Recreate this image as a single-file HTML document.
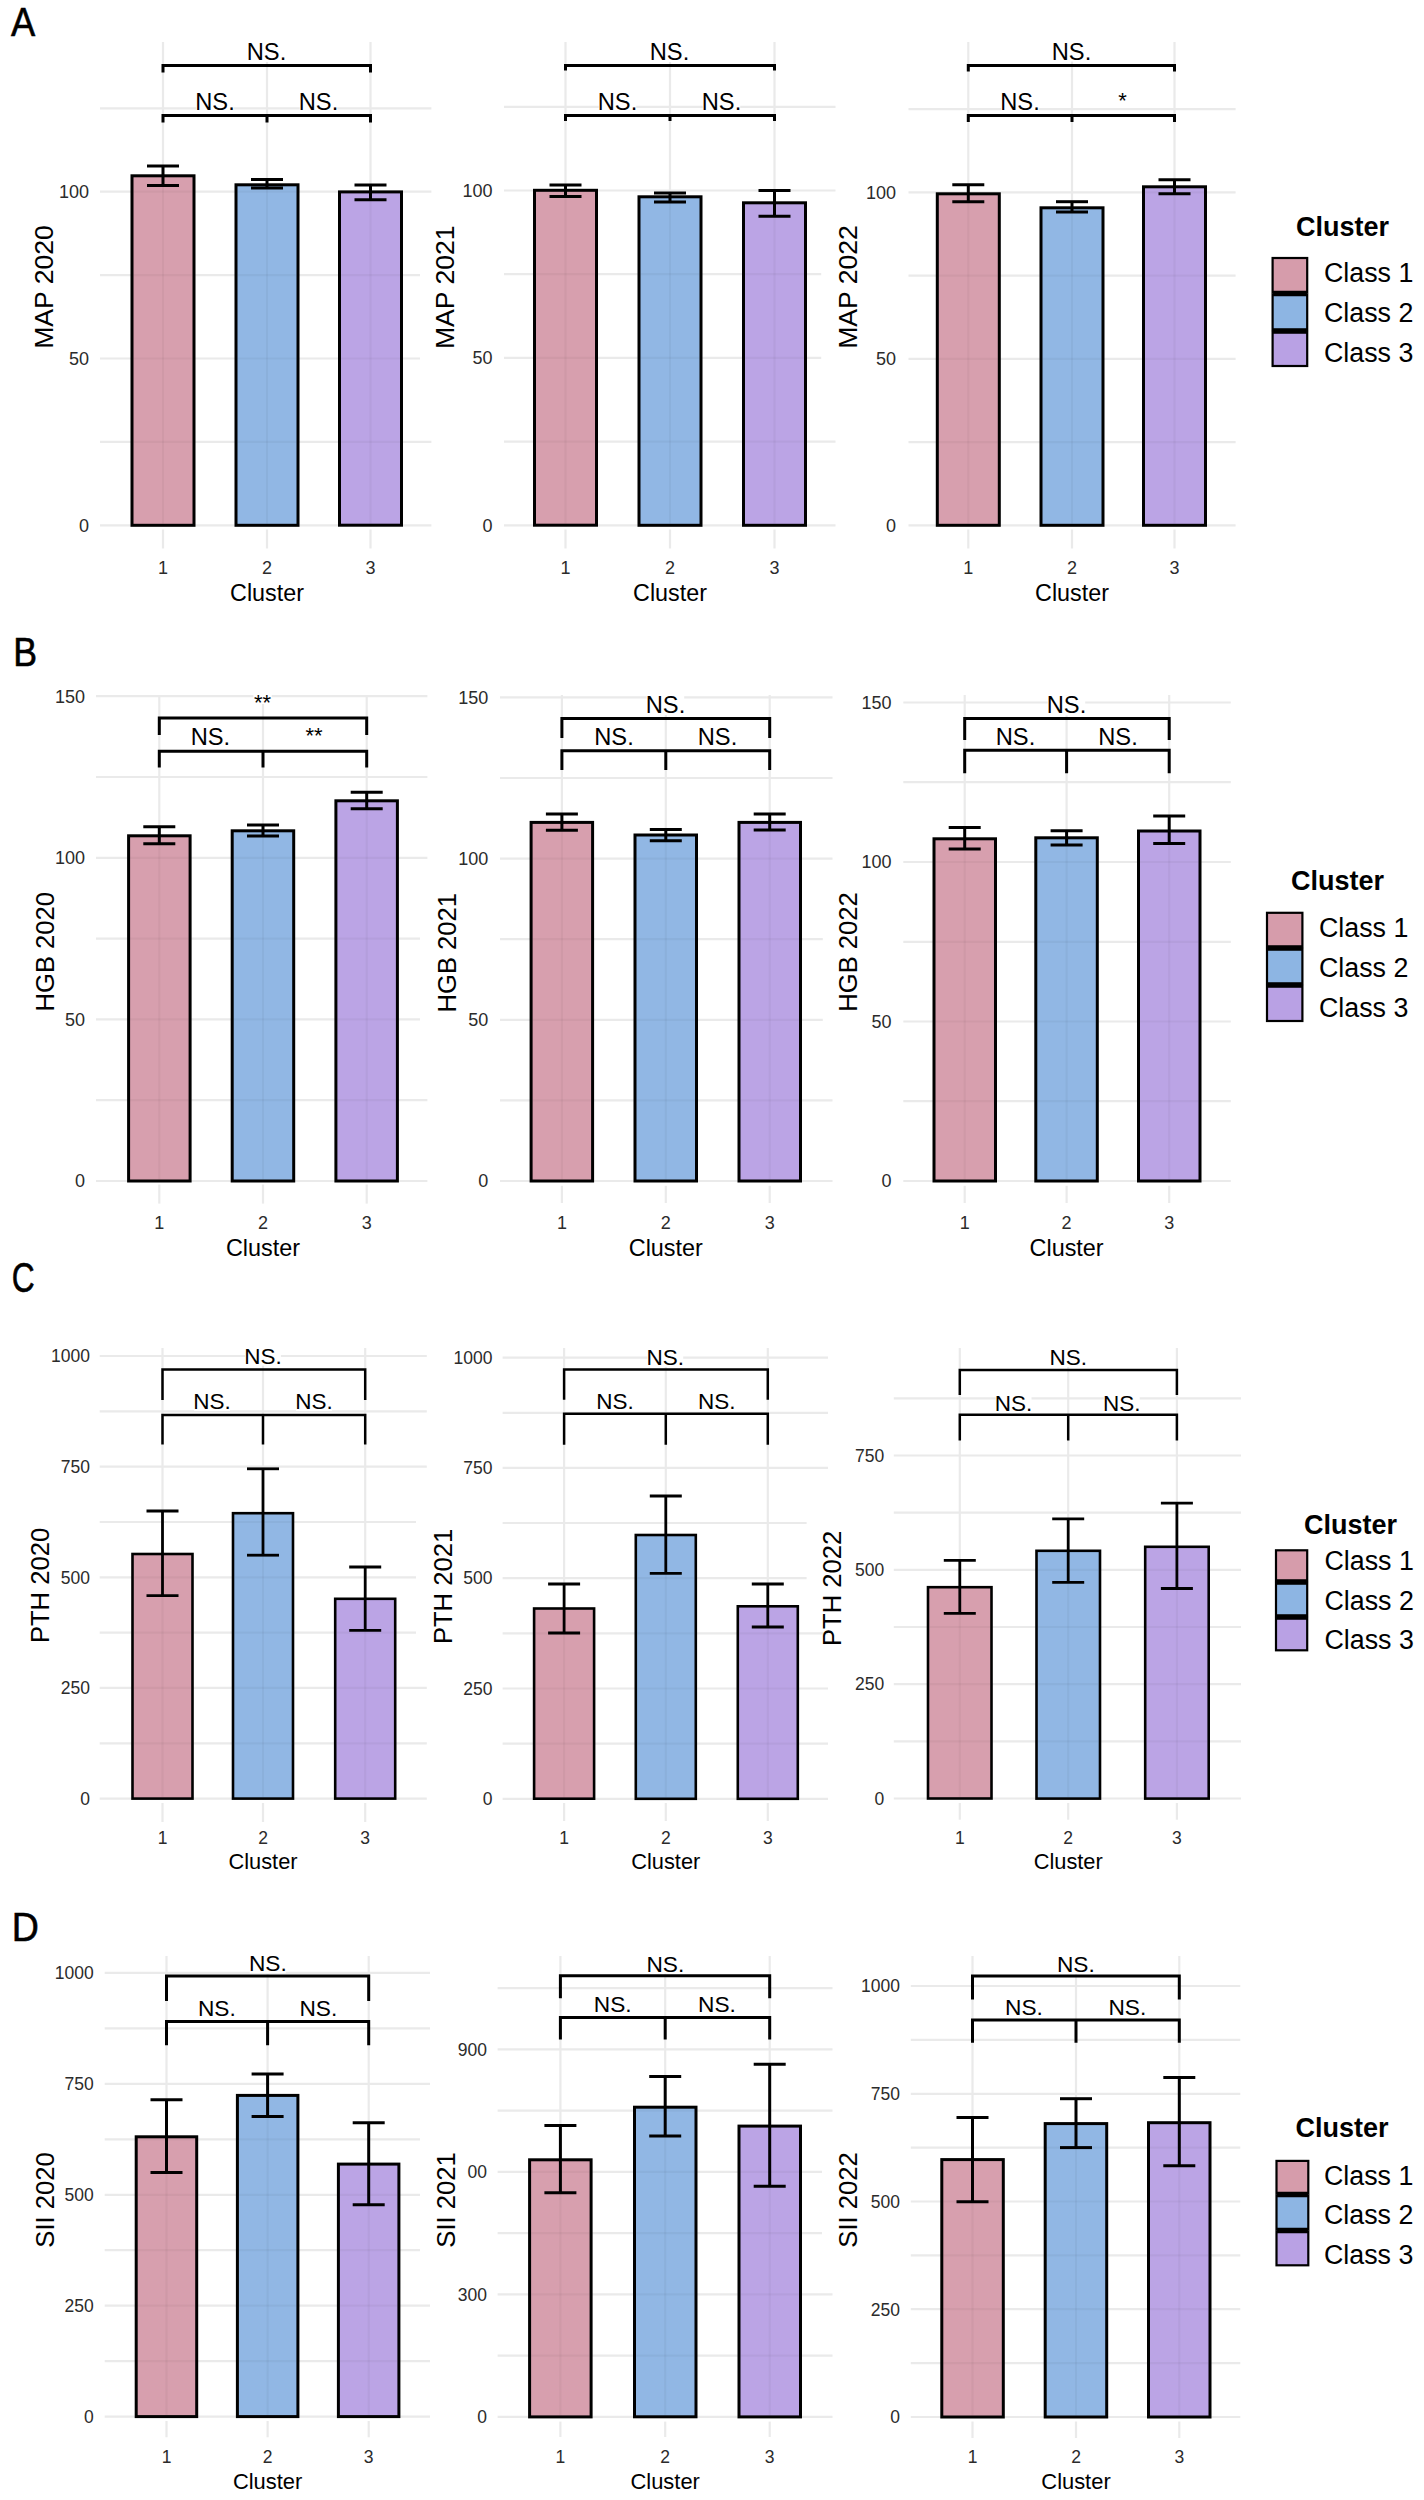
<!DOCTYPE html>
<html><head><meta charset="utf-8"><style>
html,body{margin:0;padding:0;background:#fff;}
svg{display:block;font-family:'Liberation Sans', sans-serif;}
</style></head><body>
<svg width="1424" height="2500" viewBox="0 0 1424 2500">
<rect width="1424" height="2500" fill="#fff"/>
<line x1="100.0" y1="525.3" x2="431.4" y2="525.3" stroke="#EAEAEA" stroke-width="2.2" stroke-linecap="butt"/>
<line x1="100.0" y1="441.9" x2="431.4" y2="441.9" stroke="#EAEAEA" stroke-width="2.2" stroke-linecap="butt"/>
<line x1="100.0" y1="358.5" x2="420.0" y2="358.5" stroke="#EAEAEA" stroke-width="2.2" stroke-linecap="butt"/>
<line x1="100.0" y1="275.1" x2="420.0" y2="275.1" stroke="#EAEAEA" stroke-width="2.2" stroke-linecap="butt"/>
<line x1="100.0" y1="191.7" x2="431.4" y2="191.7" stroke="#EAEAEA" stroke-width="2.2" stroke-linecap="butt"/>
<line x1="100.0" y1="108.3" x2="431.4" y2="108.3" stroke="#EAEAEA" stroke-width="2.2" stroke-linecap="butt"/>
<line x1="163.0" y1="42.0" x2="163.0" y2="526.3" stroke="#EAEAEA" stroke-width="2.2" stroke-linecap="butt"/>
<line x1="267.0" y1="42.0" x2="267.0" y2="526.3" stroke="#EAEAEA" stroke-width="2.2" stroke-linecap="butt"/>
<line x1="370.5" y1="42.0" x2="370.5" y2="526.3" stroke="#EAEAEA" stroke-width="2.2" stroke-linecap="butt"/>
<rect x="247.7" y="41.9" width="37.5" height="20.1" fill="#fff"/>
<rect x="196.2" y="91.9" width="37.5" height="20.1" fill="#fff"/>
<rect x="299.7" y="91.9" width="37.5" height="20.1" fill="#fff"/>
<line x1="163.0" y1="529.5" x2="163.0" y2="548.5" stroke="#EAEAEA" stroke-width="2.2" stroke-linecap="butt"/>
<line x1="267.0" y1="529.5" x2="267.0" y2="548.5" stroke="#EAEAEA" stroke-width="2.2" stroke-linecap="butt"/>
<line x1="370.5" y1="529.5" x2="370.5" y2="548.5" stroke="#EAEAEA" stroke-width="2.2" stroke-linecap="butt"/>
<rect x="132.0" y="175.8" width="62.0" height="349.5" fill="#D69CAB" fill-opacity="0.97" stroke="#000" stroke-width="3"/>
<rect x="236.0" y="184.8" width="62.0" height="340.5" fill="#8DB5E3" fill-opacity="0.97" stroke="#000" stroke-width="3"/>
<rect x="339.5" y="191.9" width="62.0" height="333.3" fill="#B9A1E4" fill-opacity="0.97" stroke="#000" stroke-width="3"/>
<line x1="133.5" y1="441.9" x2="192.5" y2="441.9" stroke="#000" stroke-opacity="0.035" stroke-width="2.2"/>
<line x1="133.5" y1="358.5" x2="192.5" y2="358.5" stroke="#000" stroke-opacity="0.035" stroke-width="2.2"/>
<line x1="133.5" y1="275.1" x2="192.5" y2="275.1" stroke="#000" stroke-opacity="0.035" stroke-width="2.2"/>
<line x1="133.5" y1="191.7" x2="192.5" y2="191.7" stroke="#000" stroke-opacity="0.035" stroke-width="2.2"/>
<line x1="163.0" y1="178.0" x2="163.0" y2="523.8" stroke="#000" stroke-opacity="0.035" stroke-width="2.2"/>
<line x1="237.5" y1="441.9" x2="296.5" y2="441.9" stroke="#000" stroke-opacity="0.035" stroke-width="2.2"/>
<line x1="237.5" y1="358.5" x2="296.5" y2="358.5" stroke="#000" stroke-opacity="0.035" stroke-width="2.2"/>
<line x1="237.5" y1="275.1" x2="296.5" y2="275.1" stroke="#000" stroke-opacity="0.035" stroke-width="2.2"/>
<line x1="237.5" y1="191.7" x2="296.5" y2="191.7" stroke="#000" stroke-opacity="0.035" stroke-width="2.2"/>
<line x1="267.0" y1="187.0" x2="267.0" y2="523.8" stroke="#000" stroke-opacity="0.035" stroke-width="2.2"/>
<line x1="341.0" y1="441.9" x2="400.0" y2="441.9" stroke="#000" stroke-opacity="0.035" stroke-width="2.2"/>
<line x1="341.0" y1="358.5" x2="400.0" y2="358.5" stroke="#000" stroke-opacity="0.035" stroke-width="2.2"/>
<line x1="341.0" y1="275.1" x2="400.0" y2="275.1" stroke="#000" stroke-opacity="0.035" stroke-width="2.2"/>
<line x1="370.5" y1="194.2" x2="370.5" y2="523.8" stroke="#000" stroke-opacity="0.035" stroke-width="2.2"/>
<line x1="163.0" y1="166.0" x2="163.0" y2="185.5" stroke="#000" stroke-width="3" stroke-linecap="butt"/>
<line x1="147.0" y1="166.0" x2="179.0" y2="166.0" stroke="#000" stroke-width="3" stroke-linecap="butt"/>
<line x1="147.0" y1="185.5" x2="179.0" y2="185.5" stroke="#000" stroke-width="3" stroke-linecap="butt"/>
<line x1="267.0" y1="179.5" x2="267.0" y2="188.0" stroke="#000" stroke-width="3" stroke-linecap="butt"/>
<line x1="251.0" y1="179.5" x2="283.0" y2="179.5" stroke="#000" stroke-width="3" stroke-linecap="butt"/>
<line x1="251.0" y1="188.0" x2="283.0" y2="188.0" stroke="#000" stroke-width="3" stroke-linecap="butt"/>
<line x1="370.5" y1="185.0" x2="370.5" y2="199.7" stroke="#000" stroke-width="3" stroke-linecap="butt"/>
<line x1="354.5" y1="185.0" x2="386.5" y2="185.0" stroke="#000" stroke-width="3" stroke-linecap="butt"/>
<line x1="354.5" y1="199.7" x2="386.5" y2="199.7" stroke="#000" stroke-width="3" stroke-linecap="butt"/>
<path d="M163.0,72.5 V65.5 H370.5 V72.5" fill="none" stroke="#000" stroke-width="3"/>
<path d="M163.0,122.5 V115.5 H370.5 V122.5 M267.0,115.5 V122.5" fill="none" stroke="#000" stroke-width="3"/>
<text x="266.5" y="60.0" font-size="23.7" text-anchor="middle" fill="#000" font-weight="normal" >NS.</text>
<text x="215.0" y="110.0" font-size="23.7" text-anchor="middle" fill="#000" font-weight="normal" >NS.</text>
<text x="318.5" y="110.0" font-size="23.7" text-anchor="middle" fill="#000" font-weight="normal" >NS.</text>
<text x="89.0" y="531.7" font-size="18" text-anchor="end" fill="#2B2B2B" font-weight="normal" >0</text>
<text x="89.0" y="364.9" font-size="18" text-anchor="end" fill="#2B2B2B" font-weight="normal" >50</text>
<text x="89.0" y="198.1" font-size="18" text-anchor="end" fill="#2B2B2B" font-weight="normal" >100</text>
<text x="163.0" y="573.5" font-size="18" text-anchor="middle" fill="#2B2B2B" font-weight="normal" >1</text>
<text x="267.0" y="573.5" font-size="18" text-anchor="middle" fill="#2B2B2B" font-weight="normal" >2</text>
<text x="370.5" y="573.5" font-size="18" text-anchor="middle" fill="#2B2B2B" font-weight="normal" >3</text>
<text x="267.0" y="600.5" font-size="23.3" text-anchor="middle" fill="#000" font-weight="normal" >Cluster</text>
<text x="0" y="0" font-size="26.6" text-anchor="middle" transform="translate(52.8,287.0) rotate(-90)">MAP 2020</text>
<line x1="504.0" y1="525.3" x2="835.5" y2="525.3" stroke="#EAEAEA" stroke-width="2.2" stroke-linecap="butt"/>
<line x1="504.0" y1="441.6" x2="835.5" y2="441.6" stroke="#EAEAEA" stroke-width="2.2" stroke-linecap="butt"/>
<line x1="504.0" y1="357.9" x2="821.2" y2="357.9" stroke="#EAEAEA" stroke-width="2.2" stroke-linecap="butt"/>
<line x1="504.0" y1="274.2" x2="821.2" y2="274.2" stroke="#EAEAEA" stroke-width="2.2" stroke-linecap="butt"/>
<line x1="504.0" y1="190.5" x2="835.5" y2="190.5" stroke="#EAEAEA" stroke-width="2.2" stroke-linecap="butt"/>
<line x1="504.0" y1="106.8" x2="835.5" y2="106.8" stroke="#EAEAEA" stroke-width="2.2" stroke-linecap="butt"/>
<line x1="565.5" y1="42.0" x2="565.5" y2="526.3" stroke="#EAEAEA" stroke-width="2.2" stroke-linecap="butt"/>
<line x1="670.0" y1="42.0" x2="670.0" y2="526.3" stroke="#EAEAEA" stroke-width="2.2" stroke-linecap="butt"/>
<line x1="774.5" y1="42.0" x2="774.5" y2="526.3" stroke="#EAEAEA" stroke-width="2.2" stroke-linecap="butt"/>
<rect x="650.7" y="41.9" width="37.5" height="20.1" fill="#fff"/>
<rect x="598.7" y="91.9" width="37.5" height="20.1" fill="#fff"/>
<rect x="702.7" y="91.9" width="37.5" height="20.1" fill="#fff"/>
<line x1="565.5" y1="529.5" x2="565.5" y2="548.5" stroke="#EAEAEA" stroke-width="2.2" stroke-linecap="butt"/>
<line x1="670.0" y1="529.5" x2="670.0" y2="548.5" stroke="#EAEAEA" stroke-width="2.2" stroke-linecap="butt"/>
<line x1="774.5" y1="529.5" x2="774.5" y2="548.5" stroke="#EAEAEA" stroke-width="2.2" stroke-linecap="butt"/>
<rect x="534.5" y="190.3" width="62.0" height="334.9" fill="#D69CAB" fill-opacity="0.97" stroke="#000" stroke-width="3"/>
<rect x="639.0" y="196.8" width="62.0" height="328.5" fill="#8DB5E3" fill-opacity="0.97" stroke="#000" stroke-width="3"/>
<rect x="743.5" y="202.8" width="62.0" height="322.5" fill="#B9A1E4" fill-opacity="0.97" stroke="#000" stroke-width="3"/>
<line x1="536.0" y1="441.6" x2="595.0" y2="441.6" stroke="#000" stroke-opacity="0.035" stroke-width="2.2"/>
<line x1="536.0" y1="357.9" x2="595.0" y2="357.9" stroke="#000" stroke-opacity="0.035" stroke-width="2.2"/>
<line x1="536.0" y1="274.2" x2="595.0" y2="274.2" stroke="#000" stroke-opacity="0.035" stroke-width="2.2"/>
<line x1="565.5" y1="192.6" x2="565.5" y2="523.8" stroke="#000" stroke-opacity="0.035" stroke-width="2.2"/>
<line x1="640.5" y1="441.6" x2="699.5" y2="441.6" stroke="#000" stroke-opacity="0.035" stroke-width="2.2"/>
<line x1="640.5" y1="357.9" x2="699.5" y2="357.9" stroke="#000" stroke-opacity="0.035" stroke-width="2.2"/>
<line x1="640.5" y1="274.2" x2="699.5" y2="274.2" stroke="#000" stroke-opacity="0.035" stroke-width="2.2"/>
<line x1="670.0" y1="199.0" x2="670.0" y2="523.8" stroke="#000" stroke-opacity="0.035" stroke-width="2.2"/>
<line x1="745.0" y1="441.6" x2="804.0" y2="441.6" stroke="#000" stroke-opacity="0.035" stroke-width="2.2"/>
<line x1="745.0" y1="357.9" x2="804.0" y2="357.9" stroke="#000" stroke-opacity="0.035" stroke-width="2.2"/>
<line x1="745.0" y1="274.2" x2="804.0" y2="274.2" stroke="#000" stroke-opacity="0.035" stroke-width="2.2"/>
<line x1="774.5" y1="205.0" x2="774.5" y2="523.8" stroke="#000" stroke-opacity="0.035" stroke-width="2.2"/>
<line x1="565.5" y1="185.0" x2="565.5" y2="196.6" stroke="#000" stroke-width="3" stroke-linecap="butt"/>
<line x1="549.5" y1="185.0" x2="581.5" y2="185.0" stroke="#000" stroke-width="3" stroke-linecap="butt"/>
<line x1="549.5" y1="196.6" x2="581.5" y2="196.6" stroke="#000" stroke-width="3" stroke-linecap="butt"/>
<line x1="670.0" y1="193.0" x2="670.0" y2="202.0" stroke="#000" stroke-width="3" stroke-linecap="butt"/>
<line x1="654.0" y1="193.0" x2="686.0" y2="193.0" stroke="#000" stroke-width="3" stroke-linecap="butt"/>
<line x1="654.0" y1="202.0" x2="686.0" y2="202.0" stroke="#000" stroke-width="3" stroke-linecap="butt"/>
<line x1="774.5" y1="190.5" x2="774.5" y2="216.3" stroke="#000" stroke-width="3" stroke-linecap="butt"/>
<line x1="758.5" y1="190.5" x2="790.5" y2="190.5" stroke="#000" stroke-width="3" stroke-linecap="butt"/>
<line x1="758.5" y1="216.3" x2="790.5" y2="216.3" stroke="#000" stroke-width="3" stroke-linecap="butt"/>
<path d="M565.5,70.6 V65.5 H774.5 V70.6" fill="none" stroke="#000" stroke-width="3"/>
<path d="M565.5,121.0 V115.5 H774.5 V121.0 M670.0,115.5 V121.0" fill="none" stroke="#000" stroke-width="3"/>
<text x="669.5" y="60.0" font-size="23.7" text-anchor="middle" fill="#000" font-weight="normal" >NS.</text>
<text x="617.5" y="110.0" font-size="23.7" text-anchor="middle" fill="#000" font-weight="normal" >NS.</text>
<text x="721.5" y="110.0" font-size="23.7" text-anchor="middle" fill="#000" font-weight="normal" >NS.</text>
<text x="492.5" y="531.7" font-size="18" text-anchor="end" fill="#2B2B2B" font-weight="normal" >0</text>
<text x="492.5" y="364.3" font-size="18" text-anchor="end" fill="#2B2B2B" font-weight="normal" >50</text>
<text x="492.5" y="196.9" font-size="18" text-anchor="end" fill="#2B2B2B" font-weight="normal" >100</text>
<text x="565.5" y="573.5" font-size="18" text-anchor="middle" fill="#2B2B2B" font-weight="normal" >1</text>
<text x="670.0" y="573.5" font-size="18" text-anchor="middle" fill="#2B2B2B" font-weight="normal" >2</text>
<text x="774.5" y="573.5" font-size="18" text-anchor="middle" fill="#2B2B2B" font-weight="normal" >3</text>
<text x="670.0" y="600.5" font-size="23.3" text-anchor="middle" fill="#000" font-weight="normal" >Cluster</text>
<text x="0" y="0" font-size="26.6" text-anchor="middle" transform="translate(454.4,287.2) rotate(-90)">MAP 2021</text>
<line x1="908.5" y1="525.3" x2="1235.6" y2="525.3" stroke="#EAEAEA" stroke-width="2.2" stroke-linecap="butt"/>
<line x1="908.5" y1="442.1" x2="1235.6" y2="442.1" stroke="#EAEAEA" stroke-width="2.2" stroke-linecap="butt"/>
<line x1="908.5" y1="358.8" x2="1235.6" y2="358.8" stroke="#EAEAEA" stroke-width="2.2" stroke-linecap="butt"/>
<line x1="908.5" y1="275.6" x2="1235.6" y2="275.6" stroke="#EAEAEA" stroke-width="2.2" stroke-linecap="butt"/>
<line x1="908.5" y1="192.4" x2="1235.6" y2="192.4" stroke="#EAEAEA" stroke-width="2.2" stroke-linecap="butt"/>
<line x1="908.5" y1="109.2" x2="1235.6" y2="109.2" stroke="#EAEAEA" stroke-width="2.2" stroke-linecap="butt"/>
<line x1="968.3" y1="42.0" x2="968.3" y2="526.3" stroke="#EAEAEA" stroke-width="2.2" stroke-linecap="butt"/>
<line x1="1072.0" y1="42.0" x2="1072.0" y2="526.3" stroke="#EAEAEA" stroke-width="2.2" stroke-linecap="butt"/>
<line x1="1174.5" y1="42.0" x2="1174.5" y2="526.3" stroke="#EAEAEA" stroke-width="2.2" stroke-linecap="butt"/>
<rect x="1052.7" y="41.4" width="37.5" height="20.1" fill="#fff"/>
<rect x="1001.2" y="91.9" width="37.5" height="20.1" fill="#fff"/>
<rect x="1117.4" y="91.2" width="10.1" height="10.8" fill="#fff"/>
<line x1="968.3" y1="529.5" x2="968.3" y2="548.5" stroke="#EAEAEA" stroke-width="2.2" stroke-linecap="butt"/>
<line x1="1072.0" y1="529.5" x2="1072.0" y2="548.5" stroke="#EAEAEA" stroke-width="2.2" stroke-linecap="butt"/>
<line x1="1174.5" y1="529.5" x2="1174.5" y2="548.5" stroke="#EAEAEA" stroke-width="2.2" stroke-linecap="butt"/>
<rect x="937.3" y="193.8" width="62.0" height="331.5" fill="#D69CAB" fill-opacity="0.97" stroke="#000" stroke-width="3"/>
<rect x="1041.0" y="207.8" width="62.0" height="317.5" fill="#8DB5E3" fill-opacity="0.97" stroke="#000" stroke-width="3"/>
<rect x="1143.5" y="186.8" width="62.0" height="338.5" fill="#B9A1E4" fill-opacity="0.97" stroke="#000" stroke-width="3"/>
<line x1="938.8" y1="442.1" x2="997.8" y2="442.1" stroke="#000" stroke-opacity="0.035" stroke-width="2.2"/>
<line x1="938.8" y1="358.8" x2="997.8" y2="358.8" stroke="#000" stroke-opacity="0.035" stroke-width="2.2"/>
<line x1="938.8" y1="275.6" x2="997.8" y2="275.6" stroke="#000" stroke-opacity="0.035" stroke-width="2.2"/>
<line x1="968.3" y1="196.0" x2="968.3" y2="523.8" stroke="#000" stroke-opacity="0.035" stroke-width="2.2"/>
<line x1="1042.5" y1="442.1" x2="1101.5" y2="442.1" stroke="#000" stroke-opacity="0.035" stroke-width="2.2"/>
<line x1="1042.5" y1="358.8" x2="1101.5" y2="358.8" stroke="#000" stroke-opacity="0.035" stroke-width="2.2"/>
<line x1="1042.5" y1="275.6" x2="1101.5" y2="275.6" stroke="#000" stroke-opacity="0.035" stroke-width="2.2"/>
<line x1="1072.0" y1="210.0" x2="1072.0" y2="523.8" stroke="#000" stroke-opacity="0.035" stroke-width="2.2"/>
<line x1="1145.0" y1="442.1" x2="1204.0" y2="442.1" stroke="#000" stroke-opacity="0.035" stroke-width="2.2"/>
<line x1="1145.0" y1="358.8" x2="1204.0" y2="358.8" stroke="#000" stroke-opacity="0.035" stroke-width="2.2"/>
<line x1="1145.0" y1="275.6" x2="1204.0" y2="275.6" stroke="#000" stroke-opacity="0.035" stroke-width="2.2"/>
<line x1="1145.0" y1="192.4" x2="1204.0" y2="192.4" stroke="#000" stroke-opacity="0.035" stroke-width="2.2"/>
<line x1="1174.5" y1="189.0" x2="1174.5" y2="523.8" stroke="#000" stroke-opacity="0.035" stroke-width="2.2"/>
<line x1="968.3" y1="184.8" x2="968.3" y2="201.7" stroke="#000" stroke-width="3" stroke-linecap="butt"/>
<line x1="952.3" y1="184.8" x2="984.3" y2="184.8" stroke="#000" stroke-width="3" stroke-linecap="butt"/>
<line x1="952.3" y1="201.7" x2="984.3" y2="201.7" stroke="#000" stroke-width="3" stroke-linecap="butt"/>
<line x1="1072.0" y1="201.7" x2="1072.0" y2="212.0" stroke="#000" stroke-width="3" stroke-linecap="butt"/>
<line x1="1056.0" y1="201.7" x2="1088.0" y2="201.7" stroke="#000" stroke-width="3" stroke-linecap="butt"/>
<line x1="1056.0" y1="212.0" x2="1088.0" y2="212.0" stroke="#000" stroke-width="3" stroke-linecap="butt"/>
<line x1="1174.5" y1="179.8" x2="1174.5" y2="193.8" stroke="#000" stroke-width="3" stroke-linecap="butt"/>
<line x1="1158.5" y1="179.8" x2="1190.5" y2="179.8" stroke="#000" stroke-width="3" stroke-linecap="butt"/>
<line x1="1158.5" y1="193.8" x2="1190.5" y2="193.8" stroke="#000" stroke-width="3" stroke-linecap="butt"/>
<path d="M968.3,71.6 V65.5 H1174.5 V71.6" fill="none" stroke="#000" stroke-width="3"/>
<path d="M968.3,122.0 V115.5 H1174.5 V122.0 M1072.0,115.5 V122.0" fill="none" stroke="#000" stroke-width="3"/>
<text x="1071.5" y="59.5" font-size="23.7" text-anchor="middle" fill="#000" font-weight="normal" >NS.</text>
<text x="1020.0" y="110.0" font-size="23.7" text-anchor="middle" fill="#000" font-weight="normal" >NS.</text>
<text x="1122.5" y="108.0" font-size="22" text-anchor="middle" fill="#000" font-weight="normal" >*</text>
<text x="896.0" y="531.7" font-size="18" text-anchor="end" fill="#2B2B2B" font-weight="normal" >0</text>
<text x="896.0" y="365.2" font-size="18" text-anchor="end" fill="#2B2B2B" font-weight="normal" >50</text>
<text x="896.0" y="198.8" font-size="18" text-anchor="end" fill="#2B2B2B" font-weight="normal" >100</text>
<text x="968.3" y="573.5" font-size="18" text-anchor="middle" fill="#2B2B2B" font-weight="normal" >1</text>
<text x="1072.0" y="573.5" font-size="18" text-anchor="middle" fill="#2B2B2B" font-weight="normal" >2</text>
<text x="1174.5" y="573.5" font-size="18" text-anchor="middle" fill="#2B2B2B" font-weight="normal" >3</text>
<text x="1072.0" y="600.5" font-size="23.3" text-anchor="middle" fill="#000" font-weight="normal" >Cluster</text>
<text x="0" y="0" font-size="26.6" text-anchor="middle" transform="translate(857.0,287.0) rotate(-90)">MAP 2022</text>
<line x1="96.0" y1="1181.0" x2="427.4" y2="1181.0" stroke="#EAEAEA" stroke-width="2.2" stroke-linecap="butt"/>
<line x1="96.0" y1="1100.2" x2="427.4" y2="1100.2" stroke="#EAEAEA" stroke-width="2.2" stroke-linecap="butt"/>
<line x1="96.0" y1="1019.4" x2="420.0" y2="1019.4" stroke="#EAEAEA" stroke-width="2.2" stroke-linecap="butt"/>
<line x1="96.0" y1="938.6" x2="420.0" y2="938.6" stroke="#EAEAEA" stroke-width="2.2" stroke-linecap="butt"/>
<line x1="96.0" y1="857.8" x2="427.4" y2="857.8" stroke="#EAEAEA" stroke-width="2.2" stroke-linecap="butt"/>
<line x1="96.0" y1="777.0" x2="427.4" y2="777.0" stroke="#EAEAEA" stroke-width="2.2" stroke-linecap="butt"/>
<line x1="96.0" y1="696.2" x2="427.4" y2="696.2" stroke="#EAEAEA" stroke-width="2.2" stroke-linecap="butt"/>
<line x1="159.3" y1="696.0" x2="159.3" y2="1182.0" stroke="#EAEAEA" stroke-width="2.2" stroke-linecap="butt"/>
<line x1="263.0" y1="696.0" x2="263.0" y2="1182.0" stroke="#EAEAEA" stroke-width="2.2" stroke-linecap="butt"/>
<line x1="366.7" y1="696.0" x2="366.7" y2="1182.0" stroke="#EAEAEA" stroke-width="2.2" stroke-linecap="butt"/>
<rect x="253.4" y="693.2" width="18.3" height="10.8" fill="#fff"/>
<rect x="191.6" y="726.9" width="37.5" height="20.1" fill="#fff"/>
<rect x="304.9" y="726.4" width="18.3" height="10.8" fill="#fff"/>
<line x1="159.3" y1="1184.5" x2="159.3" y2="1203.6" stroke="#EAEAEA" stroke-width="2.2" stroke-linecap="butt"/>
<line x1="263.0" y1="1184.5" x2="263.0" y2="1203.6" stroke="#EAEAEA" stroke-width="2.2" stroke-linecap="butt"/>
<line x1="366.7" y1="1184.5" x2="366.7" y2="1203.6" stroke="#EAEAEA" stroke-width="2.2" stroke-linecap="butt"/>
<rect x="128.6" y="835.8" width="61.5" height="345.2" fill="#D69CAB" fill-opacity="0.97" stroke="#000" stroke-width="3"/>
<rect x="232.2" y="830.8" width="61.5" height="350.2" fill="#8DB5E3" fill-opacity="0.97" stroke="#000" stroke-width="3"/>
<rect x="335.9" y="800.8" width="61.5" height="380.2" fill="#B9A1E4" fill-opacity="0.97" stroke="#000" stroke-width="3"/>
<line x1="130.1" y1="1100.2" x2="188.6" y2="1100.2" stroke="#000" stroke-opacity="0.035" stroke-width="2.2"/>
<line x1="130.1" y1="1019.4" x2="188.6" y2="1019.4" stroke="#000" stroke-opacity="0.035" stroke-width="2.2"/>
<line x1="130.1" y1="938.6" x2="188.6" y2="938.6" stroke="#000" stroke-opacity="0.035" stroke-width="2.2"/>
<line x1="130.1" y1="857.8" x2="188.6" y2="857.8" stroke="#000" stroke-opacity="0.035" stroke-width="2.2"/>
<line x1="159.3" y1="838.0" x2="159.3" y2="1179.5" stroke="#000" stroke-opacity="0.035" stroke-width="2.2"/>
<line x1="233.8" y1="1100.2" x2="292.2" y2="1100.2" stroke="#000" stroke-opacity="0.035" stroke-width="2.2"/>
<line x1="233.8" y1="1019.4" x2="292.2" y2="1019.4" stroke="#000" stroke-opacity="0.035" stroke-width="2.2"/>
<line x1="233.8" y1="938.6" x2="292.2" y2="938.6" stroke="#000" stroke-opacity="0.035" stroke-width="2.2"/>
<line x1="233.8" y1="857.8" x2="292.2" y2="857.8" stroke="#000" stroke-opacity="0.035" stroke-width="2.2"/>
<line x1="263.0" y1="833.0" x2="263.0" y2="1179.5" stroke="#000" stroke-opacity="0.035" stroke-width="2.2"/>
<line x1="337.4" y1="1100.2" x2="395.9" y2="1100.2" stroke="#000" stroke-opacity="0.035" stroke-width="2.2"/>
<line x1="337.4" y1="1019.4" x2="395.9" y2="1019.4" stroke="#000" stroke-opacity="0.035" stroke-width="2.2"/>
<line x1="337.4" y1="938.6" x2="395.9" y2="938.6" stroke="#000" stroke-opacity="0.035" stroke-width="2.2"/>
<line x1="337.4" y1="857.8" x2="395.9" y2="857.8" stroke="#000" stroke-opacity="0.035" stroke-width="2.2"/>
<line x1="366.7" y1="803.0" x2="366.7" y2="1179.5" stroke="#000" stroke-opacity="0.035" stroke-width="2.2"/>
<line x1="159.3" y1="826.8" x2="159.3" y2="843.8" stroke="#000" stroke-width="3" stroke-linecap="butt"/>
<line x1="143.3" y1="826.8" x2="175.3" y2="826.8" stroke="#000" stroke-width="3" stroke-linecap="butt"/>
<line x1="143.3" y1="843.8" x2="175.3" y2="843.8" stroke="#000" stroke-width="3" stroke-linecap="butt"/>
<line x1="263.0" y1="825.0" x2="263.0" y2="836.0" stroke="#000" stroke-width="3" stroke-linecap="butt"/>
<line x1="247.0" y1="825.0" x2="279.0" y2="825.0" stroke="#000" stroke-width="3" stroke-linecap="butt"/>
<line x1="247.0" y1="836.0" x2="279.0" y2="836.0" stroke="#000" stroke-width="3" stroke-linecap="butt"/>
<line x1="366.7" y1="792.2" x2="366.7" y2="808.7" stroke="#000" stroke-width="3" stroke-linecap="butt"/>
<line x1="350.7" y1="792.2" x2="382.7" y2="792.2" stroke="#000" stroke-width="3" stroke-linecap="butt"/>
<line x1="350.7" y1="808.7" x2="382.7" y2="808.7" stroke="#000" stroke-width="3" stroke-linecap="butt"/>
<path d="M159.3,735.0 V718.0 H366.7 V735.0" fill="none" stroke="#000" stroke-width="3"/>
<path d="M159.3,767.5 V751.2 H366.7 V767.5 M263.0,751.2 V767.5" fill="none" stroke="#000" stroke-width="3"/>
<text x="262.5" y="710.0" font-size="22" text-anchor="middle" fill="#000" font-weight="normal" >**</text>
<text x="210.4" y="745.0" font-size="23.7" text-anchor="middle" fill="#000" font-weight="normal" >NS.</text>
<text x="314.0" y="743.2" font-size="22" text-anchor="middle" fill="#000" font-weight="normal" >**</text>
<text x="85.0" y="1187.4" font-size="18" text-anchor="end" fill="#2B2B2B" font-weight="normal" >0</text>
<text x="85.0" y="1025.8" font-size="18" text-anchor="end" fill="#2B2B2B" font-weight="normal" >50</text>
<text x="85.0" y="864.2" font-size="18" text-anchor="end" fill="#2B2B2B" font-weight="normal" >100</text>
<text x="85.0" y="702.6" font-size="18" text-anchor="end" fill="#2B2B2B" font-weight="normal" >150</text>
<text x="159.3" y="1229.0" font-size="18" text-anchor="middle" fill="#2B2B2B" font-weight="normal" >1</text>
<text x="263.0" y="1229.0" font-size="18" text-anchor="middle" fill="#2B2B2B" font-weight="normal" >2</text>
<text x="366.7" y="1229.0" font-size="18" text-anchor="middle" fill="#2B2B2B" font-weight="normal" >3</text>
<text x="263.0" y="1255.5" font-size="23.4" text-anchor="middle" fill="#000" font-weight="normal" >Cluster</text>
<text x="0" y="0" font-size="25.6" text-anchor="middle" transform="translate(54.0,951.7) rotate(-90)">HGB 2020</text>
<line x1="500.0" y1="1181.0" x2="832.5" y2="1181.0" stroke="#EAEAEA" stroke-width="2.2" stroke-linecap="butt"/>
<line x1="500.0" y1="1100.4" x2="832.5" y2="1100.4" stroke="#EAEAEA" stroke-width="2.2" stroke-linecap="butt"/>
<line x1="500.0" y1="1019.8" x2="822.8" y2="1019.8" stroke="#EAEAEA" stroke-width="2.2" stroke-linecap="butt"/>
<line x1="500.0" y1="939.2" x2="822.8" y2="939.2" stroke="#EAEAEA" stroke-width="2.2" stroke-linecap="butt"/>
<line x1="500.0" y1="858.6" x2="832.5" y2="858.6" stroke="#EAEAEA" stroke-width="2.2" stroke-linecap="butt"/>
<line x1="500.0" y1="778.0" x2="832.5" y2="778.0" stroke="#EAEAEA" stroke-width="2.2" stroke-linecap="butt"/>
<line x1="500.0" y1="697.4" x2="832.5" y2="697.4" stroke="#EAEAEA" stroke-width="2.2" stroke-linecap="butt"/>
<line x1="561.9" y1="695.0" x2="561.9" y2="1182.0" stroke="#EAEAEA" stroke-width="2.2" stroke-linecap="butt"/>
<line x1="665.8" y1="695.0" x2="665.8" y2="1182.0" stroke="#EAEAEA" stroke-width="2.2" stroke-linecap="butt"/>
<line x1="769.7" y1="695.0" x2="769.7" y2="1182.0" stroke="#EAEAEA" stroke-width="2.2" stroke-linecap="butt"/>
<rect x="646.7" y="694.9" width="37.5" height="20.1" fill="#fff"/>
<rect x="595.2" y="726.9" width="37.5" height="20.1" fill="#fff"/>
<rect x="698.7" y="726.9" width="37.5" height="20.1" fill="#fff"/>
<line x1="561.9" y1="1185.8" x2="561.9" y2="1203.0" stroke="#EAEAEA" stroke-width="2.2" stroke-linecap="butt"/>
<line x1="665.8" y1="1185.8" x2="665.8" y2="1203.0" stroke="#EAEAEA" stroke-width="2.2" stroke-linecap="butt"/>
<line x1="769.7" y1="1185.8" x2="769.7" y2="1203.0" stroke="#EAEAEA" stroke-width="2.2" stroke-linecap="butt"/>
<rect x="531.1" y="822.4" width="61.5" height="358.6" fill="#D69CAB" fill-opacity="0.97" stroke="#000" stroke-width="3"/>
<rect x="635.0" y="835.0" width="61.5" height="346.0" fill="#8DB5E3" fill-opacity="0.97" stroke="#000" stroke-width="3"/>
<rect x="739.0" y="822.4" width="61.5" height="358.6" fill="#B9A1E4" fill-opacity="0.97" stroke="#000" stroke-width="3"/>
<line x1="532.6" y1="1100.4" x2="591.1" y2="1100.4" stroke="#000" stroke-opacity="0.035" stroke-width="2.2"/>
<line x1="532.6" y1="1019.8" x2="591.1" y2="1019.8" stroke="#000" stroke-opacity="0.035" stroke-width="2.2"/>
<line x1="532.6" y1="939.2" x2="591.1" y2="939.2" stroke="#000" stroke-opacity="0.035" stroke-width="2.2"/>
<line x1="532.6" y1="858.6" x2="591.1" y2="858.6" stroke="#000" stroke-opacity="0.035" stroke-width="2.2"/>
<line x1="561.9" y1="824.6" x2="561.9" y2="1179.5" stroke="#000" stroke-opacity="0.035" stroke-width="2.2"/>
<line x1="636.5" y1="1100.4" x2="695.0" y2="1100.4" stroke="#000" stroke-opacity="0.035" stroke-width="2.2"/>
<line x1="636.5" y1="1019.8" x2="695.0" y2="1019.8" stroke="#000" stroke-opacity="0.035" stroke-width="2.2"/>
<line x1="636.5" y1="939.2" x2="695.0" y2="939.2" stroke="#000" stroke-opacity="0.035" stroke-width="2.2"/>
<line x1="636.5" y1="858.6" x2="695.0" y2="858.6" stroke="#000" stroke-opacity="0.035" stroke-width="2.2"/>
<line x1="665.8" y1="837.2" x2="665.8" y2="1179.5" stroke="#000" stroke-opacity="0.035" stroke-width="2.2"/>
<line x1="740.5" y1="1100.4" x2="799.0" y2="1100.4" stroke="#000" stroke-opacity="0.035" stroke-width="2.2"/>
<line x1="740.5" y1="1019.8" x2="799.0" y2="1019.8" stroke="#000" stroke-opacity="0.035" stroke-width="2.2"/>
<line x1="740.5" y1="939.2" x2="799.0" y2="939.2" stroke="#000" stroke-opacity="0.035" stroke-width="2.2"/>
<line x1="740.5" y1="858.6" x2="799.0" y2="858.6" stroke="#000" stroke-opacity="0.035" stroke-width="2.2"/>
<line x1="769.7" y1="824.6" x2="769.7" y2="1179.5" stroke="#000" stroke-opacity="0.035" stroke-width="2.2"/>
<line x1="561.9" y1="814.0" x2="561.9" y2="830.3" stroke="#000" stroke-width="3" stroke-linecap="butt"/>
<line x1="545.9" y1="814.0" x2="577.9" y2="814.0" stroke="#000" stroke-width="3" stroke-linecap="butt"/>
<line x1="545.9" y1="830.3" x2="577.9" y2="830.3" stroke="#000" stroke-width="3" stroke-linecap="butt"/>
<line x1="665.8" y1="829.4" x2="665.8" y2="840.7" stroke="#000" stroke-width="3" stroke-linecap="butt"/>
<line x1="649.8" y1="829.4" x2="681.8" y2="829.4" stroke="#000" stroke-width="3" stroke-linecap="butt"/>
<line x1="649.8" y1="840.7" x2="681.8" y2="840.7" stroke="#000" stroke-width="3" stroke-linecap="butt"/>
<line x1="769.7" y1="814.0" x2="769.7" y2="830.0" stroke="#000" stroke-width="3" stroke-linecap="butt"/>
<line x1="753.7" y1="814.0" x2="785.7" y2="814.0" stroke="#000" stroke-width="3" stroke-linecap="butt"/>
<line x1="753.7" y1="830.0" x2="785.7" y2="830.0" stroke="#000" stroke-width="3" stroke-linecap="butt"/>
<path d="M561.9,738.0 V718.5 H769.7 V738.0" fill="none" stroke="#000" stroke-width="3"/>
<path d="M561.9,770.0 V750.8 H769.7 V770.0 M665.8,750.8 V770.0" fill="none" stroke="#000" stroke-width="3"/>
<text x="665.5" y="713.0" font-size="23.7" text-anchor="middle" fill="#000" font-weight="normal" >NS.</text>
<text x="614.0" y="745.0" font-size="23.7" text-anchor="middle" fill="#000" font-weight="normal" >NS.</text>
<text x="717.5" y="745.0" font-size="23.7" text-anchor="middle" fill="#000" font-weight="normal" >NS.</text>
<text x="488.3" y="1187.4" font-size="18" text-anchor="end" fill="#2B2B2B" font-weight="normal" >0</text>
<text x="488.3" y="1026.2" font-size="18" text-anchor="end" fill="#2B2B2B" font-weight="normal" >50</text>
<text x="488.3" y="865.0" font-size="18" text-anchor="end" fill="#2B2B2B" font-weight="normal" >100</text>
<text x="488.3" y="703.8" font-size="18" text-anchor="end" fill="#2B2B2B" font-weight="normal" >150</text>
<text x="561.9" y="1229.0" font-size="18" text-anchor="middle" fill="#2B2B2B" font-weight="normal" >1</text>
<text x="665.8" y="1229.0" font-size="18" text-anchor="middle" fill="#2B2B2B" font-weight="normal" >2</text>
<text x="769.7" y="1229.0" font-size="18" text-anchor="middle" fill="#2B2B2B" font-weight="normal" >3</text>
<text x="665.8" y="1255.5" font-size="23.4" text-anchor="middle" fill="#000" font-weight="normal" >Cluster</text>
<text x="0" y="0" font-size="25.6" text-anchor="middle" transform="translate(456.0,952.7) rotate(-90)">HGB 2021</text>
<line x1="903.3" y1="1181.0" x2="1230.8" y2="1181.0" stroke="#EAEAEA" stroke-width="2.2" stroke-linecap="butt"/>
<line x1="903.3" y1="1101.2" x2="1230.8" y2="1101.2" stroke="#EAEAEA" stroke-width="2.2" stroke-linecap="butt"/>
<line x1="903.3" y1="1021.5" x2="1230.8" y2="1021.5" stroke="#EAEAEA" stroke-width="2.2" stroke-linecap="butt"/>
<line x1="903.3" y1="941.8" x2="1230.8" y2="941.8" stroke="#EAEAEA" stroke-width="2.2" stroke-linecap="butt"/>
<line x1="903.3" y1="862.0" x2="1230.8" y2="862.0" stroke="#EAEAEA" stroke-width="2.2" stroke-linecap="butt"/>
<line x1="903.3" y1="782.2" x2="1230.8" y2="782.2" stroke="#EAEAEA" stroke-width="2.2" stroke-linecap="butt"/>
<line x1="903.3" y1="702.5" x2="1230.8" y2="702.5" stroke="#EAEAEA" stroke-width="2.2" stroke-linecap="butt"/>
<line x1="964.7" y1="695.0" x2="964.7" y2="1182.0" stroke="#EAEAEA" stroke-width="2.2" stroke-linecap="butt"/>
<line x1="1066.6" y1="695.0" x2="1066.6" y2="1182.0" stroke="#EAEAEA" stroke-width="2.2" stroke-linecap="butt"/>
<line x1="1169.2" y1="695.0" x2="1169.2" y2="1182.0" stroke="#EAEAEA" stroke-width="2.2" stroke-linecap="butt"/>
<rect x="1047.7" y="695.3" width="37.5" height="20.1" fill="#fff"/>
<rect x="996.7" y="726.9" width="37.5" height="20.1" fill="#fff"/>
<rect x="1099.2" y="726.9" width="37.5" height="20.1" fill="#fff"/>
<line x1="964.7" y1="1185.8" x2="964.7" y2="1203.0" stroke="#EAEAEA" stroke-width="2.2" stroke-linecap="butt"/>
<line x1="1066.6" y1="1185.8" x2="1066.6" y2="1203.0" stroke="#EAEAEA" stroke-width="2.2" stroke-linecap="butt"/>
<line x1="1169.2" y1="1185.8" x2="1169.2" y2="1203.0" stroke="#EAEAEA" stroke-width="2.2" stroke-linecap="butt"/>
<rect x="934.0" y="838.8" width="61.5" height="342.2" fill="#D69CAB" fill-opacity="0.97" stroke="#000" stroke-width="3"/>
<rect x="1035.8" y="837.8" width="61.5" height="343.2" fill="#8DB5E3" fill-opacity="0.97" stroke="#000" stroke-width="3"/>
<rect x="1138.5" y="831.0" width="61.5" height="350.0" fill="#B9A1E4" fill-opacity="0.97" stroke="#000" stroke-width="3"/>
<line x1="935.5" y1="1101.2" x2="994.0" y2="1101.2" stroke="#000" stroke-opacity="0.035" stroke-width="2.2"/>
<line x1="935.5" y1="1021.5" x2="994.0" y2="1021.5" stroke="#000" stroke-opacity="0.035" stroke-width="2.2"/>
<line x1="935.5" y1="941.8" x2="994.0" y2="941.8" stroke="#000" stroke-opacity="0.035" stroke-width="2.2"/>
<line x1="935.5" y1="862.0" x2="994.0" y2="862.0" stroke="#000" stroke-opacity="0.035" stroke-width="2.2"/>
<line x1="964.7" y1="841.0" x2="964.7" y2="1179.5" stroke="#000" stroke-opacity="0.035" stroke-width="2.2"/>
<line x1="1037.3" y1="1101.2" x2="1095.8" y2="1101.2" stroke="#000" stroke-opacity="0.035" stroke-width="2.2"/>
<line x1="1037.3" y1="1021.5" x2="1095.8" y2="1021.5" stroke="#000" stroke-opacity="0.035" stroke-width="2.2"/>
<line x1="1037.3" y1="941.8" x2="1095.8" y2="941.8" stroke="#000" stroke-opacity="0.035" stroke-width="2.2"/>
<line x1="1037.3" y1="862.0" x2="1095.8" y2="862.0" stroke="#000" stroke-opacity="0.035" stroke-width="2.2"/>
<line x1="1066.6" y1="840.0" x2="1066.6" y2="1179.5" stroke="#000" stroke-opacity="0.035" stroke-width="2.2"/>
<line x1="1140.0" y1="1101.2" x2="1198.5" y2="1101.2" stroke="#000" stroke-opacity="0.035" stroke-width="2.2"/>
<line x1="1140.0" y1="1021.5" x2="1198.5" y2="1021.5" stroke="#000" stroke-opacity="0.035" stroke-width="2.2"/>
<line x1="1140.0" y1="941.8" x2="1198.5" y2="941.8" stroke="#000" stroke-opacity="0.035" stroke-width="2.2"/>
<line x1="1140.0" y1="862.0" x2="1198.5" y2="862.0" stroke="#000" stroke-opacity="0.035" stroke-width="2.2"/>
<line x1="1169.2" y1="833.3" x2="1169.2" y2="1179.5" stroke="#000" stroke-opacity="0.035" stroke-width="2.2"/>
<line x1="964.7" y1="827.5" x2="964.7" y2="849.0" stroke="#000" stroke-width="3" stroke-linecap="butt"/>
<line x1="948.7" y1="827.5" x2="980.7" y2="827.5" stroke="#000" stroke-width="3" stroke-linecap="butt"/>
<line x1="948.7" y1="849.0" x2="980.7" y2="849.0" stroke="#000" stroke-width="3" stroke-linecap="butt"/>
<line x1="1066.6" y1="830.8" x2="1066.6" y2="845.0" stroke="#000" stroke-width="3" stroke-linecap="butt"/>
<line x1="1050.6" y1="830.8" x2="1082.6" y2="830.8" stroke="#000" stroke-width="3" stroke-linecap="butt"/>
<line x1="1050.6" y1="845.0" x2="1082.6" y2="845.0" stroke="#000" stroke-width="3" stroke-linecap="butt"/>
<line x1="1169.2" y1="816.0" x2="1169.2" y2="843.5" stroke="#000" stroke-width="3" stroke-linecap="butt"/>
<line x1="1153.2" y1="816.0" x2="1185.2" y2="816.0" stroke="#000" stroke-width="3" stroke-linecap="butt"/>
<line x1="1153.2" y1="843.5" x2="1185.2" y2="843.5" stroke="#000" stroke-width="3" stroke-linecap="butt"/>
<path d="M964.7,740.0 V718.5 H1169.2 V740.0" fill="none" stroke="#000" stroke-width="3"/>
<path d="M964.7,773.3 V750.2 H1169.2 V773.3 M1066.6,750.2 V773.3" fill="none" stroke="#000" stroke-width="3"/>
<text x="1066.5" y="713.4" font-size="23.7" text-anchor="middle" fill="#000" font-weight="normal" >NS.</text>
<text x="1015.5" y="745.0" font-size="23.7" text-anchor="middle" fill="#000" font-weight="normal" >NS.</text>
<text x="1118.0" y="745.0" font-size="23.7" text-anchor="middle" fill="#000" font-weight="normal" >NS.</text>
<text x="891.6" y="1187.4" font-size="18" text-anchor="end" fill="#2B2B2B" font-weight="normal" >0</text>
<text x="891.6" y="1027.9" font-size="18" text-anchor="end" fill="#2B2B2B" font-weight="normal" >50</text>
<text x="891.6" y="868.4" font-size="18" text-anchor="end" fill="#2B2B2B" font-weight="normal" >100</text>
<text x="891.6" y="708.9" font-size="18" text-anchor="end" fill="#2B2B2B" font-weight="normal" >150</text>
<text x="964.7" y="1229.0" font-size="18" text-anchor="middle" fill="#2B2B2B" font-weight="normal" >1</text>
<text x="1066.6" y="1229.0" font-size="18" text-anchor="middle" fill="#2B2B2B" font-weight="normal" >2</text>
<text x="1169.2" y="1229.0" font-size="18" text-anchor="middle" fill="#2B2B2B" font-weight="normal" >3</text>
<text x="1066.6" y="1255.5" font-size="23.4" text-anchor="middle" fill="#000" font-weight="normal" >Cluster</text>
<text x="0" y="0" font-size="25.6" text-anchor="middle" transform="translate(857.0,952.0) rotate(-90)">HGB 2022</text>
<line x1="99.7" y1="1798.6" x2="426.8" y2="1798.6" stroke="#EAEAEA" stroke-width="2.2" stroke-linecap="butt"/>
<line x1="99.7" y1="1743.3" x2="426.8" y2="1743.3" stroke="#EAEAEA" stroke-width="2.2" stroke-linecap="butt"/>
<line x1="99.7" y1="1687.9" x2="426.8" y2="1687.9" stroke="#EAEAEA" stroke-width="2.2" stroke-linecap="butt"/>
<line x1="99.7" y1="1632.6" x2="416.0" y2="1632.6" stroke="#EAEAEA" stroke-width="2.2" stroke-linecap="butt"/>
<line x1="99.7" y1="1577.3" x2="416.0" y2="1577.3" stroke="#EAEAEA" stroke-width="2.2" stroke-linecap="butt"/>
<line x1="99.7" y1="1522.0" x2="416.0" y2="1522.0" stroke="#EAEAEA" stroke-width="2.2" stroke-linecap="butt"/>
<line x1="99.7" y1="1466.7" x2="426.8" y2="1466.7" stroke="#EAEAEA" stroke-width="2.2" stroke-linecap="butt"/>
<line x1="99.7" y1="1411.3" x2="426.8" y2="1411.3" stroke="#EAEAEA" stroke-width="2.2" stroke-linecap="butt"/>
<line x1="99.7" y1="1356.0" x2="426.8" y2="1356.0" stroke="#EAEAEA" stroke-width="2.2" stroke-linecap="butt"/>
<line x1="162.5" y1="1348.0" x2="162.5" y2="1799.6" stroke="#EAEAEA" stroke-width="2.2" stroke-linecap="butt"/>
<line x1="263.0" y1="1348.0" x2="263.0" y2="1799.6" stroke="#EAEAEA" stroke-width="2.2" stroke-linecap="butt"/>
<line x1="365.2" y1="1348.0" x2="365.2" y2="1799.6" stroke="#EAEAEA" stroke-width="2.2" stroke-linecap="butt"/>
<rect x="245.1" y="1346.5" width="35.8" height="19.2" fill="#fff"/>
<rect x="194.1" y="1391.8" width="35.8" height="19.2" fill="#fff"/>
<rect x="296.1" y="1391.8" width="35.8" height="19.2" fill="#fff"/>
<line x1="162.5" y1="1803.0" x2="162.5" y2="1822.0" stroke="#EAEAEA" stroke-width="2.2" stroke-linecap="butt"/>
<line x1="263.0" y1="1803.0" x2="263.0" y2="1822.0" stroke="#EAEAEA" stroke-width="2.2" stroke-linecap="butt"/>
<line x1="365.2" y1="1803.0" x2="365.2" y2="1822.0" stroke="#EAEAEA" stroke-width="2.2" stroke-linecap="butt"/>
<rect x="132.5" y="1554.0" width="60.0" height="244.6" fill="#D69CAB" fill-opacity="0.97" stroke="#000" stroke-width="2.6"/>
<rect x="233.0" y="1513.2" width="60.0" height="285.4" fill="#8DB5E3" fill-opacity="0.97" stroke="#000" stroke-width="2.6"/>
<rect x="335.2" y="1598.8" width="60.0" height="199.8" fill="#B9A1E4" fill-opacity="0.97" stroke="#000" stroke-width="2.6"/>
<line x1="134.0" y1="1743.3" x2="191.0" y2="1743.3" stroke="#000" stroke-opacity="0.035" stroke-width="2.2"/>
<line x1="134.0" y1="1687.9" x2="191.0" y2="1687.9" stroke="#000" stroke-opacity="0.035" stroke-width="2.2"/>
<line x1="134.0" y1="1632.6" x2="191.0" y2="1632.6" stroke="#000" stroke-opacity="0.035" stroke-width="2.2"/>
<line x1="134.0" y1="1577.3" x2="191.0" y2="1577.3" stroke="#000" stroke-opacity="0.035" stroke-width="2.2"/>
<line x1="162.5" y1="1556.2" x2="162.5" y2="1797.1" stroke="#000" stroke-opacity="0.035" stroke-width="2.2"/>
<line x1="234.5" y1="1743.3" x2="291.5" y2="1743.3" stroke="#000" stroke-opacity="0.035" stroke-width="2.2"/>
<line x1="234.5" y1="1687.9" x2="291.5" y2="1687.9" stroke="#000" stroke-opacity="0.035" stroke-width="2.2"/>
<line x1="234.5" y1="1632.6" x2="291.5" y2="1632.6" stroke="#000" stroke-opacity="0.035" stroke-width="2.2"/>
<line x1="234.5" y1="1577.3" x2="291.5" y2="1577.3" stroke="#000" stroke-opacity="0.035" stroke-width="2.2"/>
<line x1="234.5" y1="1522.0" x2="291.5" y2="1522.0" stroke="#000" stroke-opacity="0.035" stroke-width="2.2"/>
<line x1="263.0" y1="1515.4" x2="263.0" y2="1797.1" stroke="#000" stroke-opacity="0.035" stroke-width="2.2"/>
<line x1="336.7" y1="1743.3" x2="393.7" y2="1743.3" stroke="#000" stroke-opacity="0.035" stroke-width="2.2"/>
<line x1="336.7" y1="1687.9" x2="393.7" y2="1687.9" stroke="#000" stroke-opacity="0.035" stroke-width="2.2"/>
<line x1="336.7" y1="1632.6" x2="393.7" y2="1632.6" stroke="#000" stroke-opacity="0.035" stroke-width="2.2"/>
<line x1="365.2" y1="1601.0" x2="365.2" y2="1797.1" stroke="#000" stroke-opacity="0.035" stroke-width="2.2"/>
<line x1="162.5" y1="1511.0" x2="162.5" y2="1595.6" stroke="#000" stroke-width="2.8" stroke-linecap="butt"/>
<line x1="146.5" y1="1511.0" x2="178.5" y2="1511.0" stroke="#000" stroke-width="2.8" stroke-linecap="butt"/>
<line x1="146.5" y1="1595.6" x2="178.5" y2="1595.6" stroke="#000" stroke-width="2.8" stroke-linecap="butt"/>
<line x1="263.0" y1="1468.8" x2="263.0" y2="1555.2" stroke="#000" stroke-width="2.8" stroke-linecap="butt"/>
<line x1="247.0" y1="1468.8" x2="279.0" y2="1468.8" stroke="#000" stroke-width="2.8" stroke-linecap="butt"/>
<line x1="247.0" y1="1555.2" x2="279.0" y2="1555.2" stroke="#000" stroke-width="2.8" stroke-linecap="butt"/>
<line x1="365.2" y1="1567.0" x2="365.2" y2="1630.4" stroke="#000" stroke-width="2.8" stroke-linecap="butt"/>
<line x1="349.2" y1="1567.0" x2="381.2" y2="1567.0" stroke="#000" stroke-width="2.8" stroke-linecap="butt"/>
<line x1="349.2" y1="1630.4" x2="381.2" y2="1630.4" stroke="#000" stroke-width="2.8" stroke-linecap="butt"/>
<path d="M162.5,1400.0 V1369.5 H365.2 V1400.0" fill="none" stroke="#000" stroke-width="2.5"/>
<path d="M162.5,1444.5 V1415.0 H365.2 V1444.5 M263.0,1415.0 V1444.5" fill="none" stroke="#000" stroke-width="2.5"/>
<text x="263.0" y="1363.8" font-size="22.5" text-anchor="middle" fill="#000" font-weight="normal" >NS.</text>
<text x="212.0" y="1409.0" font-size="22.5" text-anchor="middle" fill="#000" font-weight="normal" >NS.</text>
<text x="314.0" y="1409.0" font-size="22.5" text-anchor="middle" fill="#000" font-weight="normal" >NS.</text>
<text x="90.0" y="1804.8" font-size="17.5" text-anchor="end" fill="#2B2B2B" font-weight="normal" >0</text>
<text x="90.0" y="1694.2" font-size="17.5" text-anchor="end" fill="#2B2B2B" font-weight="normal" >250</text>
<text x="90.0" y="1583.5" font-size="17.5" text-anchor="end" fill="#2B2B2B" font-weight="normal" >500</text>
<text x="90.0" y="1472.9" font-size="17.5" text-anchor="end" fill="#2B2B2B" font-weight="normal" >750</text>
<text x="90.0" y="1362.2" font-size="17.5" text-anchor="end" fill="#2B2B2B" font-weight="normal" >1000</text>
<text x="162.5" y="1843.5" font-size="17.5" text-anchor="middle" fill="#2B2B2B" font-weight="normal" >1</text>
<text x="263.0" y="1843.5" font-size="17.5" text-anchor="middle" fill="#2B2B2B" font-weight="normal" >2</text>
<text x="365.2" y="1843.5" font-size="17.5" text-anchor="middle" fill="#2B2B2B" font-weight="normal" >3</text>
<text x="263.0" y="1868.8" font-size="21.8" text-anchor="middle" fill="#000" font-weight="normal" >Cluster</text>
<text x="0" y="0" font-size="25.6" text-anchor="middle" transform="translate(48.7,1585.5) rotate(-90)">PTH 2020</text>
<line x1="502.6" y1="1798.8" x2="828.0" y2="1798.8" stroke="#EAEAEA" stroke-width="2.2" stroke-linecap="butt"/>
<line x1="502.6" y1="1743.6" x2="828.0" y2="1743.6" stroke="#EAEAEA" stroke-width="2.2" stroke-linecap="butt"/>
<line x1="502.6" y1="1688.5" x2="828.0" y2="1688.5" stroke="#EAEAEA" stroke-width="2.2" stroke-linecap="butt"/>
<line x1="502.6" y1="1633.3" x2="828.0" y2="1633.3" stroke="#EAEAEA" stroke-width="2.2" stroke-linecap="butt"/>
<line x1="502.6" y1="1578.2" x2="806.6" y2="1578.2" stroke="#EAEAEA" stroke-width="2.2" stroke-linecap="butt"/>
<line x1="502.6" y1="1523.0" x2="806.6" y2="1523.0" stroke="#EAEAEA" stroke-width="2.2" stroke-linecap="butt"/>
<line x1="502.6" y1="1467.9" x2="828.0" y2="1467.9" stroke="#EAEAEA" stroke-width="2.2" stroke-linecap="butt"/>
<line x1="502.6" y1="1412.8" x2="828.0" y2="1412.8" stroke="#EAEAEA" stroke-width="2.2" stroke-linecap="butt"/>
<line x1="502.6" y1="1357.6" x2="828.0" y2="1357.6" stroke="#EAEAEA" stroke-width="2.2" stroke-linecap="butt"/>
<line x1="564.1" y1="1348.0" x2="564.1" y2="1799.8" stroke="#EAEAEA" stroke-width="2.2" stroke-linecap="butt"/>
<line x1="665.8" y1="1348.0" x2="665.8" y2="1799.8" stroke="#EAEAEA" stroke-width="2.2" stroke-linecap="butt"/>
<line x1="767.8" y1="1348.0" x2="767.8" y2="1799.8" stroke="#EAEAEA" stroke-width="2.2" stroke-linecap="butt"/>
<rect x="647.4" y="1347.8" width="35.8" height="19.2" fill="#fff"/>
<rect x="597.1" y="1391.5" width="35.8" height="19.2" fill="#fff"/>
<rect x="698.9" y="1391.5" width="35.8" height="19.2" fill="#fff"/>
<line x1="564.1" y1="1803.0" x2="564.1" y2="1821.0" stroke="#EAEAEA" stroke-width="2.2" stroke-linecap="butt"/>
<line x1="665.8" y1="1803.0" x2="665.8" y2="1821.0" stroke="#EAEAEA" stroke-width="2.2" stroke-linecap="butt"/>
<line x1="767.8" y1="1803.0" x2="767.8" y2="1821.0" stroke="#EAEAEA" stroke-width="2.2" stroke-linecap="butt"/>
<rect x="534.1" y="1608.5" width="60.0" height="190.2" fill="#D69CAB" fill-opacity="0.97" stroke="#000" stroke-width="2.6"/>
<rect x="635.8" y="1535.0" width="60.0" height="263.8" fill="#8DB5E3" fill-opacity="0.97" stroke="#000" stroke-width="2.6"/>
<rect x="737.8" y="1606.3" width="60.0" height="192.5" fill="#B9A1E4" fill-opacity="0.97" stroke="#000" stroke-width="2.6"/>
<line x1="535.6" y1="1743.6" x2="592.6" y2="1743.6" stroke="#000" stroke-opacity="0.035" stroke-width="2.2"/>
<line x1="535.6" y1="1688.5" x2="592.6" y2="1688.5" stroke="#000" stroke-opacity="0.035" stroke-width="2.2"/>
<line x1="535.6" y1="1633.3" x2="592.6" y2="1633.3" stroke="#000" stroke-opacity="0.035" stroke-width="2.2"/>
<line x1="564.1" y1="1610.8" x2="564.1" y2="1797.3" stroke="#000" stroke-opacity="0.035" stroke-width="2.2"/>
<line x1="637.3" y1="1743.6" x2="694.3" y2="1743.6" stroke="#000" stroke-opacity="0.035" stroke-width="2.2"/>
<line x1="637.3" y1="1688.5" x2="694.3" y2="1688.5" stroke="#000" stroke-opacity="0.035" stroke-width="2.2"/>
<line x1="637.3" y1="1633.3" x2="694.3" y2="1633.3" stroke="#000" stroke-opacity="0.035" stroke-width="2.2"/>
<line x1="637.3" y1="1578.2" x2="694.3" y2="1578.2" stroke="#000" stroke-opacity="0.035" stroke-width="2.2"/>
<line x1="665.8" y1="1537.2" x2="665.8" y2="1797.3" stroke="#000" stroke-opacity="0.035" stroke-width="2.2"/>
<line x1="739.3" y1="1743.6" x2="796.3" y2="1743.6" stroke="#000" stroke-opacity="0.035" stroke-width="2.2"/>
<line x1="739.3" y1="1688.5" x2="796.3" y2="1688.5" stroke="#000" stroke-opacity="0.035" stroke-width="2.2"/>
<line x1="739.3" y1="1633.3" x2="796.3" y2="1633.3" stroke="#000" stroke-opacity="0.035" stroke-width="2.2"/>
<line x1="767.8" y1="1608.6" x2="767.8" y2="1797.3" stroke="#000" stroke-opacity="0.035" stroke-width="2.2"/>
<line x1="564.1" y1="1584.0" x2="564.1" y2="1633.0" stroke="#000" stroke-width="2.8" stroke-linecap="butt"/>
<line x1="548.1" y1="1584.0" x2="580.1" y2="1584.0" stroke="#000" stroke-width="2.8" stroke-linecap="butt"/>
<line x1="548.1" y1="1633.0" x2="580.1" y2="1633.0" stroke="#000" stroke-width="2.8" stroke-linecap="butt"/>
<line x1="665.8" y1="1496.0" x2="665.8" y2="1573.3" stroke="#000" stroke-width="2.8" stroke-linecap="butt"/>
<line x1="649.8" y1="1496.0" x2="681.8" y2="1496.0" stroke="#000" stroke-width="2.8" stroke-linecap="butt"/>
<line x1="649.8" y1="1573.3" x2="681.8" y2="1573.3" stroke="#000" stroke-width="2.8" stroke-linecap="butt"/>
<line x1="767.8" y1="1584.0" x2="767.8" y2="1627.0" stroke="#000" stroke-width="2.8" stroke-linecap="butt"/>
<line x1="751.8" y1="1584.0" x2="783.8" y2="1584.0" stroke="#000" stroke-width="2.8" stroke-linecap="butt"/>
<line x1="751.8" y1="1627.0" x2="783.8" y2="1627.0" stroke="#000" stroke-width="2.8" stroke-linecap="butt"/>
<path d="M564.1,1399.7 V1369.4 H767.8 V1399.7" fill="none" stroke="#000" stroke-width="2.5"/>
<path d="M564.1,1444.7 V1413.8 H767.8 V1444.7 M665.8,1413.8 V1444.7" fill="none" stroke="#000" stroke-width="2.5"/>
<text x="665.3" y="1365.0" font-size="22.5" text-anchor="middle" fill="#000" font-weight="normal" >NS.</text>
<text x="615.0" y="1408.7" font-size="22.5" text-anchor="middle" fill="#000" font-weight="normal" >NS.</text>
<text x="716.8" y="1408.7" font-size="22.5" text-anchor="middle" fill="#000" font-weight="normal" >NS.</text>
<text x="492.5" y="1805.0" font-size="17.5" text-anchor="end" fill="#2B2B2B" font-weight="normal" >0</text>
<text x="492.5" y="1694.7" font-size="17.5" text-anchor="end" fill="#2B2B2B" font-weight="normal" >250</text>
<text x="492.5" y="1584.4" font-size="17.5" text-anchor="end" fill="#2B2B2B" font-weight="normal" >500</text>
<text x="492.5" y="1474.1" font-size="17.5" text-anchor="end" fill="#2B2B2B" font-weight="normal" >750</text>
<text x="492.5" y="1363.8" font-size="17.5" text-anchor="end" fill="#2B2B2B" font-weight="normal" >1000</text>
<text x="564.1" y="1843.5" font-size="17.5" text-anchor="middle" fill="#2B2B2B" font-weight="normal" >1</text>
<text x="665.8" y="1843.5" font-size="17.5" text-anchor="middle" fill="#2B2B2B" font-weight="normal" >2</text>
<text x="767.8" y="1843.5" font-size="17.5" text-anchor="middle" fill="#2B2B2B" font-weight="normal" >3</text>
<text x="665.8" y="1868.8" font-size="21.8" text-anchor="middle" fill="#000" font-weight="normal" >Cluster</text>
<text x="0" y="0" font-size="25.6" text-anchor="middle" transform="translate(451.5,1586.5) rotate(-90)">PTH 2021</text>
<line x1="893.8" y1="1798.5" x2="1241.0" y2="1798.5" stroke="#EAEAEA" stroke-width="2.2" stroke-linecap="butt"/>
<line x1="893.8" y1="1741.3" x2="1241.0" y2="1741.3" stroke="#EAEAEA" stroke-width="2.2" stroke-linecap="butt"/>
<line x1="893.8" y1="1684.2" x2="1241.0" y2="1684.2" stroke="#EAEAEA" stroke-width="2.2" stroke-linecap="butt"/>
<line x1="893.8" y1="1627.0" x2="1241.0" y2="1627.0" stroke="#EAEAEA" stroke-width="2.2" stroke-linecap="butt"/>
<line x1="893.8" y1="1569.8" x2="1241.0" y2="1569.8" stroke="#EAEAEA" stroke-width="2.2" stroke-linecap="butt"/>
<line x1="893.8" y1="1512.7" x2="1241.0" y2="1512.7" stroke="#EAEAEA" stroke-width="2.2" stroke-linecap="butt"/>
<line x1="893.8" y1="1455.5" x2="1241.0" y2="1455.5" stroke="#EAEAEA" stroke-width="2.2" stroke-linecap="butt"/>
<line x1="893.8" y1="1398.3" x2="1241.0" y2="1398.3" stroke="#EAEAEA" stroke-width="2.2" stroke-linecap="butt"/>
<line x1="959.8" y1="1348.0" x2="959.8" y2="1799.5" stroke="#EAEAEA" stroke-width="2.2" stroke-linecap="butt"/>
<line x1="1068.2" y1="1348.0" x2="1068.2" y2="1799.5" stroke="#EAEAEA" stroke-width="2.2" stroke-linecap="butt"/>
<line x1="1176.9" y1="1348.0" x2="1176.9" y2="1799.5" stroke="#EAEAEA" stroke-width="2.2" stroke-linecap="butt"/>
<rect x="1050.4" y="1347.8" width="35.8" height="19.2" fill="#fff"/>
<rect x="995.7" y="1393.6" width="35.8" height="19.2" fill="#fff"/>
<rect x="1103.9" y="1393.6" width="35.8" height="19.2" fill="#fff"/>
<line x1="959.8" y1="1803.0" x2="959.8" y2="1819.7" stroke="#EAEAEA" stroke-width="2.2" stroke-linecap="butt"/>
<line x1="1068.2" y1="1803.0" x2="1068.2" y2="1819.7" stroke="#EAEAEA" stroke-width="2.2" stroke-linecap="butt"/>
<line x1="1176.9" y1="1803.0" x2="1176.9" y2="1819.7" stroke="#EAEAEA" stroke-width="2.2" stroke-linecap="butt"/>
<rect x="928.0" y="1587.2" width="63.5" height="211.3" fill="#D69CAB" fill-opacity="0.97" stroke="#000" stroke-width="2.6"/>
<rect x="1036.5" y="1550.8" width="63.5" height="247.8" fill="#8DB5E3" fill-opacity="0.97" stroke="#000" stroke-width="2.6"/>
<rect x="1145.2" y="1546.8" width="63.5" height="251.8" fill="#B9A1E4" fill-opacity="0.97" stroke="#000" stroke-width="2.6"/>
<line x1="929.5" y1="1741.3" x2="990.0" y2="1741.3" stroke="#000" stroke-opacity="0.035" stroke-width="2.2"/>
<line x1="929.5" y1="1684.2" x2="990.0" y2="1684.2" stroke="#000" stroke-opacity="0.035" stroke-width="2.2"/>
<line x1="929.5" y1="1627.0" x2="990.0" y2="1627.0" stroke="#000" stroke-opacity="0.035" stroke-width="2.2"/>
<line x1="959.8" y1="1589.4" x2="959.8" y2="1797.0" stroke="#000" stroke-opacity="0.035" stroke-width="2.2"/>
<line x1="1038.0" y1="1741.3" x2="1098.5" y2="1741.3" stroke="#000" stroke-opacity="0.035" stroke-width="2.2"/>
<line x1="1038.0" y1="1684.2" x2="1098.5" y2="1684.2" stroke="#000" stroke-opacity="0.035" stroke-width="2.2"/>
<line x1="1038.0" y1="1627.0" x2="1098.5" y2="1627.0" stroke="#000" stroke-opacity="0.035" stroke-width="2.2"/>
<line x1="1038.0" y1="1569.8" x2="1098.5" y2="1569.8" stroke="#000" stroke-opacity="0.035" stroke-width="2.2"/>
<line x1="1068.2" y1="1553.0" x2="1068.2" y2="1797.0" stroke="#000" stroke-opacity="0.035" stroke-width="2.2"/>
<line x1="1146.7" y1="1741.3" x2="1207.2" y2="1741.3" stroke="#000" stroke-opacity="0.035" stroke-width="2.2"/>
<line x1="1146.7" y1="1684.2" x2="1207.2" y2="1684.2" stroke="#000" stroke-opacity="0.035" stroke-width="2.2"/>
<line x1="1146.7" y1="1627.0" x2="1207.2" y2="1627.0" stroke="#000" stroke-opacity="0.035" stroke-width="2.2"/>
<line x1="1146.7" y1="1569.8" x2="1207.2" y2="1569.8" stroke="#000" stroke-opacity="0.035" stroke-width="2.2"/>
<line x1="1176.9" y1="1549.0" x2="1176.9" y2="1797.0" stroke="#000" stroke-opacity="0.035" stroke-width="2.2"/>
<line x1="959.8" y1="1560.3" x2="959.8" y2="1613.4" stroke="#000" stroke-width="2.8" stroke-linecap="butt"/>
<line x1="943.8" y1="1560.3" x2="975.8" y2="1560.3" stroke="#000" stroke-width="2.8" stroke-linecap="butt"/>
<line x1="943.8" y1="1613.4" x2="975.8" y2="1613.4" stroke="#000" stroke-width="2.8" stroke-linecap="butt"/>
<line x1="1068.2" y1="1518.9" x2="1068.2" y2="1582.3" stroke="#000" stroke-width="2.8" stroke-linecap="butt"/>
<line x1="1052.2" y1="1518.9" x2="1084.2" y2="1518.9" stroke="#000" stroke-width="2.8" stroke-linecap="butt"/>
<line x1="1052.2" y1="1582.3" x2="1084.2" y2="1582.3" stroke="#000" stroke-width="2.8" stroke-linecap="butt"/>
<line x1="1176.9" y1="1503.2" x2="1176.9" y2="1588.5" stroke="#000" stroke-width="2.8" stroke-linecap="butt"/>
<line x1="1160.9" y1="1503.2" x2="1192.9" y2="1503.2" stroke="#000" stroke-width="2.8" stroke-linecap="butt"/>
<line x1="1160.9" y1="1588.5" x2="1192.9" y2="1588.5" stroke="#000" stroke-width="2.8" stroke-linecap="butt"/>
<path d="M959.8,1395.0 V1370.0 H1176.9 V1395.0" fill="none" stroke="#000" stroke-width="2.5"/>
<path d="M959.8,1440.4 V1414.7 H1176.9 V1440.4 M1068.2,1414.7 V1440.4" fill="none" stroke="#000" stroke-width="2.5"/>
<text x="1068.3" y="1365.0" font-size="22.5" text-anchor="middle" fill="#000" font-weight="normal" >NS.</text>
<text x="1013.6" y="1410.8" font-size="22.5" text-anchor="middle" fill="#000" font-weight="normal" >NS.</text>
<text x="1121.8" y="1410.8" font-size="22.5" text-anchor="middle" fill="#000" font-weight="normal" >NS.</text>
<text x="884.3" y="1804.7" font-size="17.5" text-anchor="end" fill="#2B2B2B" font-weight="normal" >0</text>
<text x="884.3" y="1690.4" font-size="17.5" text-anchor="end" fill="#2B2B2B" font-weight="normal" >250</text>
<text x="884.3" y="1576.0" font-size="17.5" text-anchor="end" fill="#2B2B2B" font-weight="normal" >500</text>
<text x="884.3" y="1461.7" font-size="17.5" text-anchor="end" fill="#2B2B2B" font-weight="normal" >750</text>
<text x="959.8" y="1843.5" font-size="17.5" text-anchor="middle" fill="#2B2B2B" font-weight="normal" >1</text>
<text x="1068.2" y="1843.5" font-size="17.5" text-anchor="middle" fill="#2B2B2B" font-weight="normal" >2</text>
<text x="1176.9" y="1843.5" font-size="17.5" text-anchor="middle" fill="#2B2B2B" font-weight="normal" >3</text>
<text x="1068.2" y="1868.8" font-size="21.8" text-anchor="middle" fill="#000" font-weight="normal" >Cluster</text>
<text x="0" y="0" font-size="25.6" text-anchor="middle" transform="translate(841.0,1588.4) rotate(-90)">PTH 2022</text>
<line x1="104.7" y1="2416.6" x2="430.0" y2="2416.6" stroke="#EAEAEA" stroke-width="2.2" stroke-linecap="butt"/>
<line x1="104.7" y1="2361.1" x2="430.0" y2="2361.1" stroke="#EAEAEA" stroke-width="2.2" stroke-linecap="butt"/>
<line x1="104.7" y1="2305.7" x2="430.0" y2="2305.7" stroke="#EAEAEA" stroke-width="2.2" stroke-linecap="butt"/>
<line x1="104.7" y1="2250.2" x2="420.0" y2="2250.2" stroke="#EAEAEA" stroke-width="2.2" stroke-linecap="butt"/>
<line x1="104.7" y1="2194.8" x2="420.0" y2="2194.8" stroke="#EAEAEA" stroke-width="2.2" stroke-linecap="butt"/>
<line x1="104.7" y1="2139.3" x2="420.0" y2="2139.3" stroke="#EAEAEA" stroke-width="2.2" stroke-linecap="butt"/>
<line x1="104.7" y1="2083.8" x2="430.0" y2="2083.8" stroke="#EAEAEA" stroke-width="2.2" stroke-linecap="butt"/>
<line x1="104.7" y1="2028.4" x2="430.0" y2="2028.4" stroke="#EAEAEA" stroke-width="2.2" stroke-linecap="butt"/>
<line x1="104.7" y1="1972.9" x2="430.0" y2="1972.9" stroke="#EAEAEA" stroke-width="2.2" stroke-linecap="butt"/>
<line x1="166.5" y1="1956.0" x2="166.5" y2="2417.6" stroke="#EAEAEA" stroke-width="2.2" stroke-linecap="butt"/>
<line x1="267.6" y1="1956.0" x2="267.6" y2="2417.6" stroke="#EAEAEA" stroke-width="2.2" stroke-linecap="butt"/>
<line x1="368.7" y1="1956.0" x2="368.7" y2="2417.6" stroke="#EAEAEA" stroke-width="2.2" stroke-linecap="butt"/>
<rect x="249.8" y="1954.1" width="36.0" height="19.3" fill="#fff"/>
<rect x="198.8" y="1998.4" width="36.0" height="19.3" fill="#fff"/>
<rect x="300.3" y="1998.4" width="36.0" height="19.3" fill="#fff"/>
<line x1="166.5" y1="2421.0" x2="166.5" y2="2437.3" stroke="#EAEAEA" stroke-width="2.2" stroke-linecap="butt"/>
<line x1="267.6" y1="2421.0" x2="267.6" y2="2437.3" stroke="#EAEAEA" stroke-width="2.2" stroke-linecap="butt"/>
<line x1="368.7" y1="2421.0" x2="368.7" y2="2437.3" stroke="#EAEAEA" stroke-width="2.2" stroke-linecap="butt"/>
<rect x="136.2" y="2136.8" width="60.5" height="279.8" fill="#D69CAB" fill-opacity="0.97" stroke="#000" stroke-width="3"/>
<rect x="237.4" y="2095.4" width="60.5" height="321.2" fill="#8DB5E3" fill-opacity="0.97" stroke="#000" stroke-width="3"/>
<rect x="338.4" y="2164.1" width="60.5" height="252.5" fill="#B9A1E4" fill-opacity="0.97" stroke="#000" stroke-width="3"/>
<line x1="137.8" y1="2361.1" x2="195.2" y2="2361.1" stroke="#000" stroke-opacity="0.035" stroke-width="2.2"/>
<line x1="137.8" y1="2305.7" x2="195.2" y2="2305.7" stroke="#000" stroke-opacity="0.035" stroke-width="2.2"/>
<line x1="137.8" y1="2250.2" x2="195.2" y2="2250.2" stroke="#000" stroke-opacity="0.035" stroke-width="2.2"/>
<line x1="137.8" y1="2194.8" x2="195.2" y2="2194.8" stroke="#000" stroke-opacity="0.035" stroke-width="2.2"/>
<line x1="137.8" y1="2139.3" x2="195.2" y2="2139.3" stroke="#000" stroke-opacity="0.035" stroke-width="2.2"/>
<line x1="166.5" y1="2139.0" x2="166.5" y2="2415.1" stroke="#000" stroke-opacity="0.035" stroke-width="2.2"/>
<line x1="238.9" y1="2361.1" x2="296.4" y2="2361.1" stroke="#000" stroke-opacity="0.035" stroke-width="2.2"/>
<line x1="238.9" y1="2305.7" x2="296.4" y2="2305.7" stroke="#000" stroke-opacity="0.035" stroke-width="2.2"/>
<line x1="238.9" y1="2250.2" x2="296.4" y2="2250.2" stroke="#000" stroke-opacity="0.035" stroke-width="2.2"/>
<line x1="238.9" y1="2194.8" x2="296.4" y2="2194.8" stroke="#000" stroke-opacity="0.035" stroke-width="2.2"/>
<line x1="238.9" y1="2139.3" x2="296.4" y2="2139.3" stroke="#000" stroke-opacity="0.035" stroke-width="2.2"/>
<line x1="267.6" y1="2097.7" x2="267.6" y2="2415.1" stroke="#000" stroke-opacity="0.035" stroke-width="2.2"/>
<line x1="339.9" y1="2361.1" x2="397.4" y2="2361.1" stroke="#000" stroke-opacity="0.035" stroke-width="2.2"/>
<line x1="339.9" y1="2305.7" x2="397.4" y2="2305.7" stroke="#000" stroke-opacity="0.035" stroke-width="2.2"/>
<line x1="339.9" y1="2250.2" x2="397.4" y2="2250.2" stroke="#000" stroke-opacity="0.035" stroke-width="2.2"/>
<line x1="339.9" y1="2194.8" x2="397.4" y2="2194.8" stroke="#000" stroke-opacity="0.035" stroke-width="2.2"/>
<line x1="368.7" y1="2166.3" x2="368.7" y2="2415.1" stroke="#000" stroke-opacity="0.035" stroke-width="2.2"/>
<line x1="166.5" y1="2099.8" x2="166.5" y2="2172.5" stroke="#000" stroke-width="3" stroke-linecap="butt"/>
<line x1="150.5" y1="2099.8" x2="182.5" y2="2099.8" stroke="#000" stroke-width="3" stroke-linecap="butt"/>
<line x1="150.5" y1="2172.5" x2="182.5" y2="2172.5" stroke="#000" stroke-width="3" stroke-linecap="butt"/>
<line x1="267.6" y1="2074.0" x2="267.6" y2="2116.6" stroke="#000" stroke-width="3" stroke-linecap="butt"/>
<line x1="251.6" y1="2074.0" x2="283.6" y2="2074.0" stroke="#000" stroke-width="3" stroke-linecap="butt"/>
<line x1="251.6" y1="2116.6" x2="283.6" y2="2116.6" stroke="#000" stroke-width="3" stroke-linecap="butt"/>
<line x1="368.7" y1="2122.8" x2="368.7" y2="2204.8" stroke="#000" stroke-width="3" stroke-linecap="butt"/>
<line x1="352.7" y1="2122.8" x2="384.7" y2="2122.8" stroke="#000" stroke-width="3" stroke-linecap="butt"/>
<line x1="352.7" y1="2204.8" x2="384.7" y2="2204.8" stroke="#000" stroke-width="3" stroke-linecap="butt"/>
<path d="M166.5,2001.0 V1975.9 H368.7 V2001.0" fill="none" stroke="#000" stroke-width="3"/>
<path d="M166.5,2045.2 V2021.6 H368.7 V2045.2 M267.6,2021.6 V2045.2" fill="none" stroke="#000" stroke-width="3"/>
<text x="267.8" y="1971.4" font-size="22.7" text-anchor="middle" fill="#000" font-weight="normal" >NS.</text>
<text x="216.8" y="2015.7" font-size="22.7" text-anchor="middle" fill="#000" font-weight="normal" >NS.</text>
<text x="318.3" y="2015.7" font-size="22.7" text-anchor="middle" fill="#000" font-weight="normal" >NS.</text>
<text x="93.8" y="2422.8" font-size="17.5" text-anchor="end" fill="#2B2B2B" font-weight="normal" >0</text>
<text x="93.8" y="2311.9" font-size="17.5" text-anchor="end" fill="#2B2B2B" font-weight="normal" >250</text>
<text x="93.8" y="2201.0" font-size="17.5" text-anchor="end" fill="#2B2B2B" font-weight="normal" >500</text>
<text x="93.8" y="2090.0" font-size="17.5" text-anchor="end" fill="#2B2B2B" font-weight="normal" >750</text>
<text x="93.8" y="1979.1" font-size="17.5" text-anchor="end" fill="#2B2B2B" font-weight="normal" >1000</text>
<text x="166.5" y="2463.0" font-size="17.5" text-anchor="middle" fill="#2B2B2B" font-weight="normal" >1</text>
<text x="267.6" y="2463.0" font-size="17.5" text-anchor="middle" fill="#2B2B2B" font-weight="normal" >2</text>
<text x="368.7" y="2463.0" font-size="17.5" text-anchor="middle" fill="#2B2B2B" font-weight="normal" >3</text>
<text x="267.6" y="2489.0" font-size="21.9" text-anchor="middle" fill="#000" font-weight="normal" >Cluster</text>
<text x="0" y="0" font-size="25.6" text-anchor="middle" transform="translate(54.0,2200.0) rotate(-90)">SII 2020</text>
<line x1="497.6" y1="2416.8" x2="832.5" y2="2416.8" stroke="#EAEAEA" stroke-width="2.2" stroke-linecap="butt"/>
<line x1="497.6" y1="2355.6" x2="832.5" y2="2355.6" stroke="#EAEAEA" stroke-width="2.2" stroke-linecap="butt"/>
<line x1="497.6" y1="2294.3" x2="832.5" y2="2294.3" stroke="#EAEAEA" stroke-width="2.2" stroke-linecap="butt"/>
<line x1="497.6" y1="2233.1" x2="822.0" y2="2233.1" stroke="#EAEAEA" stroke-width="2.2" stroke-linecap="butt"/>
<line x1="497.6" y1="2171.9" x2="822.0" y2="2171.9" stroke="#EAEAEA" stroke-width="2.2" stroke-linecap="butt"/>
<line x1="497.6" y1="2110.6" x2="832.5" y2="2110.6" stroke="#EAEAEA" stroke-width="2.2" stroke-linecap="butt"/>
<line x1="497.6" y1="2049.4" x2="832.5" y2="2049.4" stroke="#EAEAEA" stroke-width="2.2" stroke-linecap="butt"/>
<line x1="497.6" y1="1988.2" x2="832.5" y2="1988.2" stroke="#EAEAEA" stroke-width="2.2" stroke-linecap="butt"/>
<line x1="560.4" y1="1956.0" x2="560.4" y2="2417.8" stroke="#EAEAEA" stroke-width="2.2" stroke-linecap="butt"/>
<line x1="665.2" y1="1956.0" x2="665.2" y2="2417.8" stroke="#EAEAEA" stroke-width="2.2" stroke-linecap="butt"/>
<line x1="769.7" y1="1956.0" x2="769.7" y2="2417.8" stroke="#EAEAEA" stroke-width="2.2" stroke-linecap="butt"/>
<rect x="647.3" y="1954.3" width="36.0" height="19.3" fill="#fff"/>
<rect x="594.7" y="1995.1" width="36.0" height="19.3" fill="#fff"/>
<rect x="699.0" y="1995.1" width="36.0" height="19.3" fill="#fff"/>
<line x1="560.4" y1="2421.6" x2="560.4" y2="2437.0" stroke="#EAEAEA" stroke-width="2.2" stroke-linecap="butt"/>
<line x1="665.2" y1="2421.6" x2="665.2" y2="2437.0" stroke="#EAEAEA" stroke-width="2.2" stroke-linecap="butt"/>
<line x1="769.7" y1="2421.6" x2="769.7" y2="2437.0" stroke="#EAEAEA" stroke-width="2.2" stroke-linecap="butt"/>
<rect x="529.6" y="2159.8" width="61.5" height="257.1" fill="#D69CAB" fill-opacity="0.97" stroke="#000" stroke-width="3"/>
<rect x="634.5" y="2107.2" width="61.5" height="309.6" fill="#8DB5E3" fill-opacity="0.97" stroke="#000" stroke-width="3"/>
<rect x="739.0" y="2126.1" width="61.5" height="290.8" fill="#B9A1E4" fill-opacity="0.97" stroke="#000" stroke-width="3"/>
<line x1="531.1" y1="2355.6" x2="589.6" y2="2355.6" stroke="#000" stroke-opacity="0.035" stroke-width="2.2"/>
<line x1="531.1" y1="2294.3" x2="589.6" y2="2294.3" stroke="#000" stroke-opacity="0.035" stroke-width="2.2"/>
<line x1="531.1" y1="2233.1" x2="589.6" y2="2233.1" stroke="#000" stroke-opacity="0.035" stroke-width="2.2"/>
<line x1="531.1" y1="2171.9" x2="589.6" y2="2171.9" stroke="#000" stroke-opacity="0.035" stroke-width="2.2"/>
<line x1="560.4" y1="2162.0" x2="560.4" y2="2415.3" stroke="#000" stroke-opacity="0.035" stroke-width="2.2"/>
<line x1="636.0" y1="2355.6" x2="694.5" y2="2355.6" stroke="#000" stroke-opacity="0.035" stroke-width="2.2"/>
<line x1="636.0" y1="2294.3" x2="694.5" y2="2294.3" stroke="#000" stroke-opacity="0.035" stroke-width="2.2"/>
<line x1="636.0" y1="2233.1" x2="694.5" y2="2233.1" stroke="#000" stroke-opacity="0.035" stroke-width="2.2"/>
<line x1="636.0" y1="2171.9" x2="694.5" y2="2171.9" stroke="#000" stroke-opacity="0.035" stroke-width="2.2"/>
<line x1="636.0" y1="2110.6" x2="694.5" y2="2110.6" stroke="#000" stroke-opacity="0.035" stroke-width="2.2"/>
<line x1="665.2" y1="2109.5" x2="665.2" y2="2415.3" stroke="#000" stroke-opacity="0.035" stroke-width="2.2"/>
<line x1="740.5" y1="2355.6" x2="799.0" y2="2355.6" stroke="#000" stroke-opacity="0.035" stroke-width="2.2"/>
<line x1="740.5" y1="2294.3" x2="799.0" y2="2294.3" stroke="#000" stroke-opacity="0.035" stroke-width="2.2"/>
<line x1="740.5" y1="2233.1" x2="799.0" y2="2233.1" stroke="#000" stroke-opacity="0.035" stroke-width="2.2"/>
<line x1="740.5" y1="2171.9" x2="799.0" y2="2171.9" stroke="#000" stroke-opacity="0.035" stroke-width="2.2"/>
<line x1="769.7" y1="2128.3" x2="769.7" y2="2415.3" stroke="#000" stroke-opacity="0.035" stroke-width="2.2"/>
<line x1="560.4" y1="2125.6" x2="560.4" y2="2192.8" stroke="#000" stroke-width="3" stroke-linecap="butt"/>
<line x1="544.4" y1="2125.6" x2="576.4" y2="2125.6" stroke="#000" stroke-width="3" stroke-linecap="butt"/>
<line x1="544.4" y1="2192.8" x2="576.4" y2="2192.8" stroke="#000" stroke-width="3" stroke-linecap="butt"/>
<line x1="665.2" y1="2076.4" x2="665.2" y2="2136.0" stroke="#000" stroke-width="3" stroke-linecap="butt"/>
<line x1="649.2" y1="2076.4" x2="681.2" y2="2076.4" stroke="#000" stroke-width="3" stroke-linecap="butt"/>
<line x1="649.2" y1="2136.0" x2="681.2" y2="2136.0" stroke="#000" stroke-width="3" stroke-linecap="butt"/>
<line x1="769.7" y1="2064.3" x2="769.7" y2="2186.3" stroke="#000" stroke-width="3" stroke-linecap="butt"/>
<line x1="753.7" y1="2064.3" x2="785.7" y2="2064.3" stroke="#000" stroke-width="3" stroke-linecap="butt"/>
<line x1="753.7" y1="2186.3" x2="785.7" y2="2186.3" stroke="#000" stroke-width="3" stroke-linecap="butt"/>
<path d="M560.4,1998.3 V1975.8 H769.7 V1998.3" fill="none" stroke="#000" stroke-width="3"/>
<path d="M560.4,2039.6 V2017.4 H769.7 V2039.6 M665.2,2017.4 V2039.6" fill="none" stroke="#000" stroke-width="3"/>
<text x="665.3" y="1971.6" font-size="22.7" text-anchor="middle" fill="#000" font-weight="normal" >NS.</text>
<text x="612.7" y="2012.4" font-size="22.7" text-anchor="middle" fill="#000" font-weight="normal" >NS.</text>
<text x="717.0" y="2012.4" font-size="22.7" text-anchor="middle" fill="#000" font-weight="normal" >NS.</text>
<text x="486.9" y="2423.0" font-size="17.5" text-anchor="end" fill="#2B2B2B" font-weight="normal" >0</text>
<text x="486.9" y="2300.5" font-size="17.5" text-anchor="end" fill="#2B2B2B" font-weight="normal" >300</text>
<text x="486.9" y="2178.1" font-size="17.5" text-anchor="end" fill="#2B2B2B" font-weight="normal" >00</text>
<text x="486.9" y="2055.6" font-size="17.5" text-anchor="end" fill="#2B2B2B" font-weight="normal" >900</text>
<text x="560.4" y="2463.0" font-size="17.5" text-anchor="middle" fill="#2B2B2B" font-weight="normal" >1</text>
<text x="665.2" y="2463.0" font-size="17.5" text-anchor="middle" fill="#2B2B2B" font-weight="normal" >2</text>
<text x="769.7" y="2463.0" font-size="17.5" text-anchor="middle" fill="#2B2B2B" font-weight="normal" >3</text>
<text x="665.2" y="2489.0" font-size="21.9" text-anchor="middle" fill="#000" font-weight="normal" >Cluster</text>
<text x="0" y="0" font-size="25.6" text-anchor="middle" transform="translate(455.1,2200.0) rotate(-90)">SII 2021</text>
<line x1="910.8" y1="2417.0" x2="1240.3" y2="2417.0" stroke="#EAEAEA" stroke-width="2.2" stroke-linecap="butt"/>
<line x1="910.8" y1="2363.1" x2="1240.3" y2="2363.1" stroke="#EAEAEA" stroke-width="2.2" stroke-linecap="butt"/>
<line x1="910.8" y1="2309.2" x2="1240.3" y2="2309.2" stroke="#EAEAEA" stroke-width="2.2" stroke-linecap="butt"/>
<line x1="910.8" y1="2255.4" x2="1240.3" y2="2255.4" stroke="#EAEAEA" stroke-width="2.2" stroke-linecap="butt"/>
<line x1="910.8" y1="2201.5" x2="1240.3" y2="2201.5" stroke="#EAEAEA" stroke-width="2.2" stroke-linecap="butt"/>
<line x1="910.8" y1="2147.6" x2="1240.3" y2="2147.6" stroke="#EAEAEA" stroke-width="2.2" stroke-linecap="butt"/>
<line x1="910.8" y1="2093.8" x2="1240.3" y2="2093.8" stroke="#EAEAEA" stroke-width="2.2" stroke-linecap="butt"/>
<line x1="910.8" y1="2039.9" x2="1240.3" y2="2039.9" stroke="#EAEAEA" stroke-width="2.2" stroke-linecap="butt"/>
<line x1="910.8" y1="1986.0" x2="1240.3" y2="1986.0" stroke="#EAEAEA" stroke-width="2.2" stroke-linecap="butt"/>
<line x1="972.5" y1="1956.0" x2="972.5" y2="2418.0" stroke="#EAEAEA" stroke-width="2.2" stroke-linecap="butt"/>
<line x1="1076.0" y1="1956.0" x2="1076.0" y2="2418.0" stroke="#EAEAEA" stroke-width="2.2" stroke-linecap="butt"/>
<line x1="1179.3" y1="1956.0" x2="1179.3" y2="2418.0" stroke="#EAEAEA" stroke-width="2.2" stroke-linecap="butt"/>
<rect x="1057.9" y="1954.6" width="36.0" height="19.3" fill="#fff"/>
<rect x="1006.0" y="1997.4" width="36.0" height="19.3" fill="#fff"/>
<rect x="1109.3" y="1997.4" width="36.0" height="19.3" fill="#fff"/>
<line x1="972.5" y1="2421.5" x2="972.5" y2="2438.0" stroke="#EAEAEA" stroke-width="2.2" stroke-linecap="butt"/>
<line x1="1076.0" y1="2421.5" x2="1076.0" y2="2438.0" stroke="#EAEAEA" stroke-width="2.2" stroke-linecap="butt"/>
<line x1="1179.3" y1="2421.5" x2="1179.3" y2="2438.0" stroke="#EAEAEA" stroke-width="2.2" stroke-linecap="butt"/>
<rect x="941.8" y="2159.6" width="61.5" height="257.4" fill="#D69CAB" fill-opacity="0.97" stroke="#000" stroke-width="3"/>
<rect x="1045.2" y="2123.6" width="61.5" height="293.4" fill="#8DB5E3" fill-opacity="0.97" stroke="#000" stroke-width="3"/>
<rect x="1148.5" y="2122.7" width="61.5" height="294.3" fill="#B9A1E4" fill-opacity="0.97" stroke="#000" stroke-width="3"/>
<line x1="943.2" y1="2363.1" x2="1001.8" y2="2363.1" stroke="#000" stroke-opacity="0.035" stroke-width="2.2"/>
<line x1="943.2" y1="2309.2" x2="1001.8" y2="2309.2" stroke="#000" stroke-opacity="0.035" stroke-width="2.2"/>
<line x1="943.2" y1="2255.4" x2="1001.8" y2="2255.4" stroke="#000" stroke-opacity="0.035" stroke-width="2.2"/>
<line x1="943.2" y1="2201.5" x2="1001.8" y2="2201.5" stroke="#000" stroke-opacity="0.035" stroke-width="2.2"/>
<line x1="972.5" y1="2161.8" x2="972.5" y2="2415.5" stroke="#000" stroke-opacity="0.035" stroke-width="2.2"/>
<line x1="1046.8" y1="2363.1" x2="1105.2" y2="2363.1" stroke="#000" stroke-opacity="0.035" stroke-width="2.2"/>
<line x1="1046.8" y1="2309.2" x2="1105.2" y2="2309.2" stroke="#000" stroke-opacity="0.035" stroke-width="2.2"/>
<line x1="1046.8" y1="2255.4" x2="1105.2" y2="2255.4" stroke="#000" stroke-opacity="0.035" stroke-width="2.2"/>
<line x1="1046.8" y1="2201.5" x2="1105.2" y2="2201.5" stroke="#000" stroke-opacity="0.035" stroke-width="2.2"/>
<line x1="1046.8" y1="2147.6" x2="1105.2" y2="2147.6" stroke="#000" stroke-opacity="0.035" stroke-width="2.2"/>
<line x1="1076.0" y1="2125.8" x2="1076.0" y2="2415.5" stroke="#000" stroke-opacity="0.035" stroke-width="2.2"/>
<line x1="1150.0" y1="2363.1" x2="1208.5" y2="2363.1" stroke="#000" stroke-opacity="0.035" stroke-width="2.2"/>
<line x1="1150.0" y1="2309.2" x2="1208.5" y2="2309.2" stroke="#000" stroke-opacity="0.035" stroke-width="2.2"/>
<line x1="1150.0" y1="2255.4" x2="1208.5" y2="2255.4" stroke="#000" stroke-opacity="0.035" stroke-width="2.2"/>
<line x1="1150.0" y1="2201.5" x2="1208.5" y2="2201.5" stroke="#000" stroke-opacity="0.035" stroke-width="2.2"/>
<line x1="1150.0" y1="2147.6" x2="1208.5" y2="2147.6" stroke="#000" stroke-opacity="0.035" stroke-width="2.2"/>
<line x1="1179.3" y1="2124.9" x2="1179.3" y2="2415.5" stroke="#000" stroke-opacity="0.035" stroke-width="2.2"/>
<line x1="972.5" y1="2117.4" x2="972.5" y2="2201.7" stroke="#000" stroke-width="3" stroke-linecap="butt"/>
<line x1="956.5" y1="2117.4" x2="988.5" y2="2117.4" stroke="#000" stroke-width="3" stroke-linecap="butt"/>
<line x1="956.5" y1="2201.7" x2="988.5" y2="2201.7" stroke="#000" stroke-width="3" stroke-linecap="butt"/>
<line x1="1076.0" y1="2098.7" x2="1076.0" y2="2147.6" stroke="#000" stroke-width="3" stroke-linecap="butt"/>
<line x1="1060.0" y1="2098.7" x2="1092.0" y2="2098.7" stroke="#000" stroke-width="3" stroke-linecap="butt"/>
<line x1="1060.0" y1="2147.6" x2="1092.0" y2="2147.6" stroke="#000" stroke-width="3" stroke-linecap="butt"/>
<line x1="1179.3" y1="2077.5" x2="1179.3" y2="2165.7" stroke="#000" stroke-width="3" stroke-linecap="butt"/>
<line x1="1163.3" y1="2077.5" x2="1195.3" y2="2077.5" stroke="#000" stroke-width="3" stroke-linecap="butt"/>
<line x1="1163.3" y1="2165.7" x2="1195.3" y2="2165.7" stroke="#000" stroke-width="3" stroke-linecap="butt"/>
<path d="M972.5,1999.6 V1976.0 H1179.3 V1999.6" fill="none" stroke="#000" stroke-width="3"/>
<path d="M972.5,2042.8 V2019.9 H1179.3 V2042.8 M1076.0,2019.9 V2042.8" fill="none" stroke="#000" stroke-width="3"/>
<text x="1075.9" y="1971.9" font-size="22.7" text-anchor="middle" fill="#000" font-weight="normal" >NS.</text>
<text x="1024.0" y="2014.7" font-size="22.7" text-anchor="middle" fill="#000" font-weight="normal" >NS.</text>
<text x="1127.3" y="2014.7" font-size="22.7" text-anchor="middle" fill="#000" font-weight="normal" >NS.</text>
<text x="900.0" y="2423.2" font-size="17.5" text-anchor="end" fill="#2B2B2B" font-weight="normal" >0</text>
<text x="900.0" y="2315.5" font-size="17.5" text-anchor="end" fill="#2B2B2B" font-weight="normal" >250</text>
<text x="900.0" y="2207.7" font-size="17.5" text-anchor="end" fill="#2B2B2B" font-weight="normal" >500</text>
<text x="900.0" y="2100.0" font-size="17.5" text-anchor="end" fill="#2B2B2B" font-weight="normal" >750</text>
<text x="900.0" y="1992.2" font-size="17.5" text-anchor="end" fill="#2B2B2B" font-weight="normal" >1000</text>
<text x="972.5" y="2463.0" font-size="17.5" text-anchor="middle" fill="#2B2B2B" font-weight="normal" >1</text>
<text x="1076.0" y="2463.0" font-size="17.5" text-anchor="middle" fill="#2B2B2B" font-weight="normal" >2</text>
<text x="1179.3" y="2463.0" font-size="17.5" text-anchor="middle" fill="#2B2B2B" font-weight="normal" >3</text>
<text x="1076.0" y="2489.0" font-size="21.9" text-anchor="middle" fill="#000" font-weight="normal" >Cluster</text>
<text x="0" y="0" font-size="25.6" text-anchor="middle" transform="translate(856.8,2200.0) rotate(-90)">SII 2022</text>
<rect x="1272.6" y="258.0" width="34.6" height="34.5" fill="#D69CAB" stroke="#000" stroke-width="2.2"/>
<rect x="1272.6" y="294.5" width="34.6" height="35.5" fill="#8DB5E3" stroke="#000" stroke-width="2.2"/>
<rect x="1272.6" y="332.0" width="34.6" height="34.0" fill="#B9A1E4" stroke="#000" stroke-width="2.2"/>
<line x1="1272.6" y1="293.5" x2="1307.2" y2="293.5" stroke="#000" stroke-width="5.5" stroke-linecap="butt"/>
<line x1="1272.6" y1="331.0" x2="1307.2" y2="331.0" stroke="#000" stroke-width="5.5" stroke-linecap="butt"/>
<text x="1296.0" y="236.0" font-size="27" text-anchor="start" fill="#000" font-weight="bold" >Cluster</text>
<text x="1324.0" y="282.0" font-size="26.8" text-anchor="start" fill="#000" font-weight="normal" >Class 1</text>
<text x="1324.0" y="322.4" font-size="26.8" text-anchor="start" fill="#000" font-weight="normal" >Class 2</text>
<text x="1324.0" y="361.8" font-size="26.8" text-anchor="start" fill="#000" font-weight="normal" >Class 3</text>
<rect x="1267.0" y="912.8" width="35.4" height="34.2" fill="#D69CAB" stroke="#000" stroke-width="2.2"/>
<rect x="1267.0" y="949.0" width="35.4" height="35.0" fill="#8DB5E3" stroke="#000" stroke-width="2.2"/>
<rect x="1267.0" y="986.0" width="35.4" height="35.0" fill="#B9A1E4" stroke="#000" stroke-width="2.2"/>
<line x1="1267.0" y1="948.0" x2="1302.4" y2="948.0" stroke="#000" stroke-width="5.5" stroke-linecap="butt"/>
<line x1="1267.0" y1="985.0" x2="1302.4" y2="985.0" stroke="#000" stroke-width="5.5" stroke-linecap="butt"/>
<text x="1291.0" y="889.8" font-size="27" text-anchor="start" fill="#000" font-weight="bold" >Cluster</text>
<text x="1319.0" y="936.8" font-size="26.8" text-anchor="start" fill="#000" font-weight="normal" >Class 1</text>
<text x="1319.0" y="977.2" font-size="26.8" text-anchor="start" fill="#000" font-weight="normal" >Class 2</text>
<text x="1319.0" y="1016.6" font-size="26.8" text-anchor="start" fill="#000" font-weight="normal" >Class 3</text>
<rect x="1276.0" y="1550.3" width="31.2" height="30.7" fill="#D69CAB" stroke="#000" stroke-width="2.2"/>
<rect x="1276.0" y="1583.0" width="31.2" height="33.0" fill="#8DB5E3" stroke="#000" stroke-width="2.2"/>
<rect x="1276.0" y="1618.0" width="31.2" height="32.3" fill="#B9A1E4" stroke="#000" stroke-width="2.2"/>
<line x1="1276.0" y1="1582.0" x2="1307.2" y2="1582.0" stroke="#000" stroke-width="5.5" stroke-linecap="butt"/>
<line x1="1276.0" y1="1617.0" x2="1307.2" y2="1617.0" stroke="#000" stroke-width="5.5" stroke-linecap="butt"/>
<text x="1304.0" y="1534.0" font-size="27" text-anchor="start" fill="#000" font-weight="bold" >Cluster</text>
<text x="1324.5" y="1570.0" font-size="26.8" text-anchor="start" fill="#000" font-weight="normal" >Class 1</text>
<text x="1324.5" y="1609.9" font-size="26.8" text-anchor="start" fill="#000" font-weight="normal" >Class 2</text>
<text x="1324.5" y="1649.3" font-size="26.8" text-anchor="start" fill="#000" font-weight="normal" >Class 3</text>
<rect x="1276.5" y="2160.9" width="31.8" height="32.6" fill="#D69CAB" stroke="#000" stroke-width="2.2"/>
<rect x="1276.5" y="2195.5" width="31.8" height="34.0" fill="#8DB5E3" stroke="#000" stroke-width="2.2"/>
<rect x="1276.5" y="2231.5" width="31.8" height="33.8" fill="#B9A1E4" stroke="#000" stroke-width="2.2"/>
<line x1="1276.5" y1="2194.5" x2="1308.3" y2="2194.5" stroke="#000" stroke-width="5.5" stroke-linecap="butt"/>
<line x1="1276.5" y1="2230.5" x2="1308.3" y2="2230.5" stroke="#000" stroke-width="5.5" stroke-linecap="butt"/>
<text x="1295.5" y="2136.9" font-size="27" text-anchor="start" fill="#000" font-weight="bold" >Cluster</text>
<text x="1324.0" y="2184.9" font-size="26.8" text-anchor="start" fill="#000" font-weight="normal" >Class 1</text>
<text x="1324.0" y="2224.3" font-size="26.8" text-anchor="start" fill="#000" font-weight="normal" >Class 2</text>
<text x="1324.0" y="2263.8" font-size="26.8" text-anchor="start" fill="#000" font-weight="normal" >Class 3</text>
<text x="0" y="0" font-size="41.3" stroke="#000" stroke-width="0.6" transform="translate(11,35.7) scale(0.88,1)">A</text>
<text x="0" y="0" font-size="40.6" stroke="#000" stroke-width="0.6" transform="translate(13.2,666.2) scale(0.88,1)">B</text>
<text x="0" y="0" font-size="42" stroke="#000" stroke-width="0.6" transform="translate(11.75,1291.6) scale(0.755,1)">C</text>
<text x="0" y="0" font-size="40.6" stroke="#000" stroke-width="0.6" transform="translate(11.8,1940.5) scale(0.925,1)">D</text>
</svg></body></html>
